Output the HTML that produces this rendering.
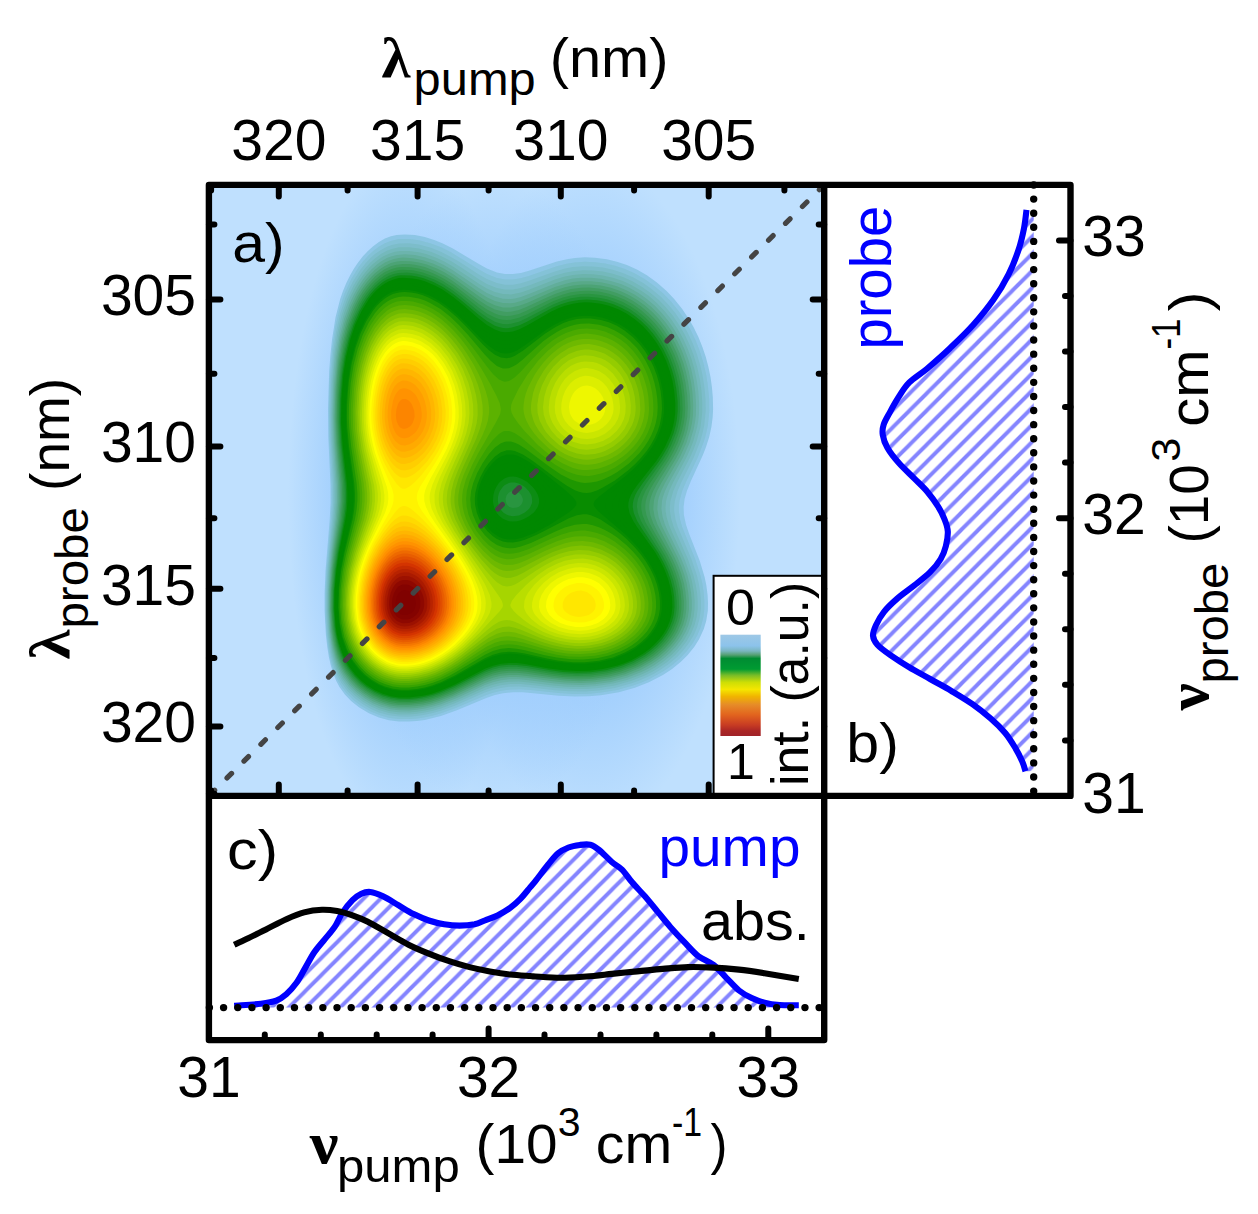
<!DOCTYPE html>
<html lang="en"><head><meta charset="utf-8"><title>2D pump-probe spectrum</title>
<style>html,body{margin:0;padding:0;background:#fff}svg{display:block}</style>
</head><body>
<svg width="1258" height="1214" viewBox="0 0 1258 1214">
<defs>
<pattern id="hatchC" width="17.1" height="17.1" patternUnits="userSpaceOnUse" patternTransform="translate(13.9,0)"><path d="M-3,3 L3,-3 M-3,20.1 L20.1,-3 M14.1,20.1 L20.1,14.1" stroke="#8484ff" stroke-width="3.9" fill="none"/></pattern>
<pattern id="hatchB" width="17.1" height="17.1" patternUnits="userSpaceOnUse" patternTransform="translate(3.4,0)"><path d="M-3,3 L3,-3 M-3,20.1 L20.1,-3 M14.1,20.1 L20.1,14.1" stroke="#8484ff" stroke-width="3.9" fill="none"/></pattern>
<clipPath id="clipA"><rect x="208.9" y="184.9" width="615.3" height="611.0"/></clipPath>
</defs>
<rect width="1258" height="1214" fill="#fff"/>
<g clip-path="url(#clipA)">
<rect x="208.9" y="184.9" width="615.3" height="611.0" fill="rgb(191,224,254)"/>
<radialGradient id="halo"><stop offset="0" stop-color="rgb(160,206,253)"/><stop offset="0.62" stop-color="rgb(160,206,253)" stop-opacity="0.85"/><stop offset="1" stop-color="rgb(160,206,253)" stop-opacity="0"/></radialGradient>
<ellipse cx="408" cy="495" rx="120" ry="340" fill="url(#halo)"/>
<ellipse cx="590" cy="495" rx="150" ry="335" fill="url(#halo)"/>
<ellipse cx="495" cy="495" rx="150" ry="320" fill="url(#halo)"/>
<path fill="rgb(141,198,229)" fill-rule="evenodd" d="M396.7,234.9L404.9,234.4L414.9,235.1L424.9,237.1L434.9,240.2L442.9,243.5L452.9,248.5L478.9,264.1L486.9,268.4L496.9,272.4L504.9,274L512.9,274.1L520.9,272.9L528.9,270.8L556.9,261.6L566.9,259.2L574.9,257.9L584.9,257.3L594.9,257.7L606.9,259.3L616.9,261.7L626.9,265.1L636.9,269.6L646.9,275.3L656.9,282.4L666.6,290.9L674.2,298.9L682.2,308.9L688.9,318.9L693.5,326.9L698.4,336.9L702.4,346.9L705.8,356.9L708.4,366.9L710.5,376.9L711.9,386.9L712.8,396.9L713.1,408.9L712.7,416.9L711.4,426.9L709.2,436.9L706,446.9L702.9,454.9L690.9,481.1L686.9,490.9L684.6,498.9L683.6,506.9L683.9,514.9L686.1,524.9L688.9,533.2L699.8,560.9L704.6,576.9L706.3,584.9L707.6,594.9L708,602.9L707.8,610.9L706.2,620.9L703.8,628.9L699.2,638.9L694.2,646.9L687.7,654.9L680.9,661.7L672.1,668.9L662.9,675L648.9,682.3L634.9,687.8L618.9,692.3L600.9,695.3L588.9,696.3L574.9,696.5L558.9,695.7L522.9,692.3L512.9,692.2L502.9,693.3L494.9,695.1L486.9,697.7L456.9,710.3L440.9,716L424.9,719.9L416.9,721L408.9,721.6L398.9,721.6L388.9,720.3L378.9,717.6L368.9,713.3L358.9,707.2L351.1,700.9L344.9,694.4L339.5,686.9L336.3,680.9L333.1,672.9L330.7,664.9L328.9,656.9L327.3,646.9L325.9,634.9L324.6,610.9L324.6,592.9L325.5,570.9L329.6,520.9L330.6,502.9L330.5,484.9L328.3,436.9L328,408.9L329.2,370.9L330.4,354.9L332.1,338.9L335.6,316.9L340.2,298.9L343,290.9L346.3,282.9L350.3,274.9L353.7,268.9L357.7,262.9L362.9,256.3L367.9,250.9L372.9,246.4L378.9,242L384.9,238.6L390.9,236.3Z"/>
<path fill="rgb(137,196,222)" fill-rule="evenodd" d="M390.9,240.9L398.9,239.1L408.9,239.1L418.9,240.3L430.9,243.5L440.9,247.3L450.9,252.3L478.9,269.5L486.9,273.9L496.9,277.9L504.9,279.5L512.9,279.6L520.9,278.2L528.9,276L556.9,266.3L566.9,263.8L574.9,262.5L584.9,261.8L594.9,262.2L604.9,263.6L614.9,265.8L624.9,269.1L634.9,273.6L644.9,279.2L654.9,286.4L662.9,293.3L670.9,301.5L678.6,310.9L684.9,320.1L691.1,330.9L695.8,340.9L699.7,350.9L703.4,362.9L706.2,374.9L708,386.9L709.1,398.9L709.3,410.9L707.9,424.9L706.2,432.9L704,440.9L697.9,456.9L686.4,480.9L682.1,490.9L679.4,500.9L678.9,504.9L678.8,510.9L679.9,518.9L682.1,526.9L695.1,558.9L700.3,574.9L702.2,582.9L703.7,592.9L704.3,600.9L704.3,608.9L703.4,616.9L700.7,626.9L697.4,634.9L692.8,642.9L686.9,650.9L679.3,658.9L670.9,666L662.9,671.6L648.9,679.2L640.9,682.7L632.9,685.6L616.9,690L600.9,692.6L588.9,693.7L574.9,693.9L558.9,693.1L530.9,690L520.9,689.3L510.9,689.4L500.9,690.7L492.9,692.7L486.2,694.9L454.9,708.3L440.9,713.3L432.9,715.6L424.9,717.3L416.9,718.4L408.9,719.1L398.9,719L388.9,717.7L380.9,715.6L370.9,711.5L360.9,705.7L352.9,699.4L346.5,692.9L340.9,685.4L337.3,678.9L334.7,672.9L332.1,664.9L330.1,656.9L328.3,646.9L327,636.9L326,624.9L325.5,612.9L325.5,592.9L326.3,572.9L331,518.9L331.9,502.9L331.8,484.9L329.5,438.9L329,412.9L329.9,378.9L332.3,348.9L335.4,326.9L339.5,308.9L344.8,292.9L351.3,278.9L358.9,266.7L363.4,260.9L368.9,254.9L373.3,250.9L378.9,246.7L384.9,243.3Z"/>
<path fill="rgb(132,194,215)" fill-rule="evenodd" d="M390.9,240.9L398.9,239.1L408.9,239.1L418.9,240.3L430.9,243.5L440.9,247.3L450.9,252.3L478.9,269.5L486.9,273.9L496.9,277.9L504.9,279.5L512.9,279.6L520.9,278.2L528.9,276L556.9,266.3L566.9,263.8L574.9,262.5L584.9,261.8L594.9,262.2L604.9,263.6L614.9,265.8L624.9,269.1L634.9,273.6L644.9,279.2L654.9,286.4L662.9,293.3L670.9,301.5L678.6,310.9L684.9,320.1L691.1,330.9L695.8,340.9L699.7,350.9L703.4,362.9L706.2,374.9L708,386.9L709.1,398.9L709.3,410.9L707.9,424.9L706.2,432.9L704,440.9L697.9,456.9L686.4,480.9L682.1,490.9L679.4,500.9L678.9,504.9L678.8,510.9L679.9,518.9L682.1,526.9L695.1,558.9L700.3,574.9L702.2,582.9L703.7,592.9L704.3,600.9L704.3,608.9L703.4,616.9L700.7,626.9L697.4,634.9L692.8,642.9L686.9,650.9L679.3,658.9L670.9,666L662.9,671.6L648.9,679.2L640.9,682.7L632.9,685.6L616.9,690L600.9,692.6L588.9,693.7L574.9,693.9L558.9,693.1L530.9,690L520.9,689.3L510.9,689.4L500.9,690.7L492.9,692.7L486.2,694.9L454.9,708.3L440.9,713.3L432.9,715.6L424.9,717.3L416.9,718.4L408.9,719.1L398.9,719L388.9,717.7L380.9,715.6L370.9,711.5L360.9,705.7L352.9,699.4L346.5,692.9L340.9,685.4L337.3,678.9L334.7,672.9L332.1,664.9L330.1,656.9L328.3,646.9L327,636.9L326,624.9L325.5,612.9L325.5,592.9L326.3,572.9L331,518.9L331.9,502.9L331.8,484.9L329.5,438.9L329,412.9L329.9,378.9L332.3,348.9L335.4,326.9L339.5,308.9L344.8,292.9L351.3,278.9L358.9,266.7L363.4,260.9L368.9,254.9L373.3,250.9L378.9,246.7L384.9,243.3Z"/>
<path fill="rgb(124,189,202)" fill-rule="evenodd" d="M391.7,244.9L398.9,243.4L408.9,243.3L418.9,244.6L430.9,247.8L440.9,251.8L450.9,256.9L458.9,261.6L478.9,274.5L486.9,279L496.9,283.1L504.9,284.7L512.9,284.7L520.9,283.2L528.9,280.8L554.9,271.4L564.9,268.6L572.9,267.1L582.9,266.2L592.9,266.4L602.9,267.5L612.9,269.7L622.9,272.9L632.9,277.2L642.9,282.8L650.9,288.4L660.9,296.8L668.7,304.9L675.3,312.9L682.2,322.9L687.9,332.9L692.6,342.9L696.5,352.9L700.2,364.9L702.5,374.9L704.4,386.9L705.5,398.9L705.7,410.9L704.3,424.9L702.6,432.9L700.3,440.9L694,456.9L681,482.9L677.6,490.9L674.8,500.9L674.2,506.9L674.2,510.9L675.4,518.9L677.8,526.9L691.4,558.9L696.8,574.9L698.7,582.9L700.3,592.9L700.9,600.9L700.9,608.9L699.5,618.9L697.2,626.9L693.8,634.9L689,642.9L682.9,650.9L677.2,656.9L668.9,664L660.9,669.6L654.9,673.2L646.9,677.3L638.9,680.7L630.9,683.6L614.9,687.9L598.9,690.4L584.9,691.4L568.9,691.3L554.9,690.2L528.9,687.2L518.9,686.6L508.9,686.8L500.9,687.9L492.9,689.8L484.9,692.6L454.9,705.7L440.9,710.8L432.9,713.1L424.9,714.8L416.9,716L408.9,716.7L398.9,716.6L388.9,715.2L378.9,712.4L370.9,708.9L362.9,704.3L354.9,698.3L347.4,690.9L341.5,682.9L338.1,676.9L335.5,670.9L332.9,663.2L330.8,654.9L329,644.9L327.7,634.9L326.3,612.9L326.3,592.9L327.3,570.9L332.2,518.9L333.2,502.9L333.1,484.9L330.6,438.9L330.1,414.9L330.9,380.9L333.3,350.9L336.3,330.9L340.3,312.9L345.6,296.9L349.1,288.9L352.9,281.4L360.9,268.9L365.8,262.9L370.9,257.6L374.9,254.1L380.9,249.9L386.9,246.7Z"/>
<path fill="rgb(116,185,188)" fill-rule="evenodd" d="M391.7,248.9L398.9,247.3L408.9,247.2L418.9,248.6L430.9,251.8L440.9,255.9L450.9,261.1L460.9,267.3L478.9,279.2L486.9,283.9L496.9,288.1L504.9,289.6L512.9,289.5L520.9,288L528.9,285.4L554.9,275.6L564.9,272.7L572.9,271.2L582.9,270.2L592.9,270.4L602.9,271.6L612.9,273.8L622.9,277.1L632.9,281.6L642.1,286.9L650.6,292.9L658.9,300.1L665.6,306.9L672.9,315.8L679.2,324.9L685,334.9L689.7,344.9L693.6,354.9L697.2,366.9L699.8,378.9L701.5,390.9L702.3,402.9L702.2,412.9L700.5,426.9L696.7,440.9L693.8,448.9L690.2,456.9L676.8,482.9L673.3,490.9L670.4,500.9L669.8,506.9L669.9,510.9L671.2,518.9L673.7,526.9L687.9,558.9L693.4,574.9L695.8,584.9L697.1,592.9L697.7,600.9L697.7,608.9L696.7,616.9L694.6,624.9L691.3,632.9L686.8,640.9L680.9,648.8L674.9,655.2L666.9,662.2L658.9,667.8L652.9,671.4L644.9,675.5L630.9,681L614.9,685.5L598.9,688.1L586.9,689L572.9,689.1L556.9,688.1L530.9,685L520.9,684.1L510.9,684L500.9,685.2L492.9,687.2L484.9,690L454.9,703.3L440.9,708.5L432.9,710.8L424.9,712.6L416.9,713.8L408.9,714.5L398.9,714.4L388.9,713L378.9,710.1L370.9,706.5L362.9,701.8L354.9,695.6L348.2,688.9L342.3,680.9L338.9,675L336.2,668.9L333.5,660.9L331.5,652.9L328.6,634.9L327.2,612.9L327.2,592.9L328,572.9L329.7,552.9L333.4,518.9L334.5,500.9L334.3,482.9L331.7,440.9L331.1,416.9L331.8,384.9L334.2,354.9L337.4,332.9L341.6,314.9L347.1,298.9L353.8,284.9L361.4,272.9L366.2,266.9L370.9,261.9L374.9,258.4L380.9,254L386.9,250.7Z"/>
<path fill="rgb(108,180,173)" fill-rule="evenodd" d="M400.4,250.9L408.9,251L418.9,252.3L426.9,254.3L436.9,258L444.9,261.8L452.9,266.4L478.9,283.7L486.9,288.5L494.9,292.1L502.9,294.1L510.9,294.4L520.9,292.5L528.9,289.8L554.9,279.6L564.9,276.6L572.9,275L582.9,274L592.9,274.2L602.9,275.4L612.9,277.7L622.9,281.1L630.9,284.7L640.9,290.4L648.9,296.1L656.9,303L664.5,310.9L671,318.9L677.7,328.9L683.3,338.9L687.8,348.9L691.5,358.9L694.4,368.9L696.5,378.9L698.3,390.9L699.1,402.9L699,412.9L698.3,420.9L697.2,426.9L693.4,440.9L690.3,448.9L686.7,456.9L672.8,482.9L669.1,490.9L667.1,496.9L666.1,500.9L665.5,506.9L665.6,510.9L666.6,516.9L669,524.9L672.4,532.9L684.5,558.9L690.3,574.9L692.3,582.9L694,592.9L694.7,600.9L694.6,608.9L693.6,616.9L691.5,624.9L688.1,632.9L683.5,640.9L677.3,648.9L671.5,654.9L662.9,662L654.9,667.4L646.9,671.9L640.9,674.7L626.9,680L612.9,683.6L596.9,686.1L582.9,687L566.9,686.7L552.9,685.5L528.9,682.4L518.9,681.6L508.9,681.7L500.9,682.7L492.9,684.7L484.9,687.5L456.9,700.2L440.9,706.3L432.9,708.7L424.9,710.5L416.9,711.7L408.9,712.4L398.9,712.3L388.9,710.9L378.9,707.9L370.9,704.3L362.9,699.4L354.9,693.1L348.9,686.9L342.9,678.9L339.5,672.9L336.8,666.9L334.1,658.9L332.1,650.9L329.3,632.9L327.9,610.9L328,590.9L329,570.9L330.7,552.9L334.6,518.9L335.7,502.9L335.7,484.9L332.8,440.9L332.1,414.9L333.1,380.9L334.3,364.9L335.9,350.9L339.4,330.9L344.1,312.9L347.7,302.9L350.9,295.6L354.9,287.7L358.9,281.1L363.2,274.9L368.9,268.1L372.9,264.1L378.9,259.2L382.9,256.6L388.9,253.7L394.9,251.7Z"/>
<path fill="rgb(98,174,155)" fill-rule="evenodd" d="M396.8,254.9L404.9,254.3L414.9,255.1L424.9,257.3L434.9,260.8L442.9,264.5L452.9,270.2L478.9,288L486.9,293L494.9,296.6L502.9,298.7L510.9,298.9L514.9,298.4L520.9,296.9L528.9,294.1L554.9,283.4L564.9,280.3L572.9,278.6L580.9,277.7L590.9,277.7L600.9,278.7L610.9,280.9L620.9,284.1L628.9,287.6L638.9,293.2L646.9,298.9L654.9,305.8L661.8,312.9L668.4,320.9L673.9,328.9L679.7,338.9L684.4,348.9L688.2,358.9L691.2,368.9L693.8,380.9L695.4,392.9L696.1,404.9L695.9,414.9L695.2,420.9L693.7,428.9L689.5,442.9L683.3,456.9L668.9,482.9L665,490.9L662.9,496.9L662,500.9L661.4,508.9L662.6,516.9L665.1,524.9L668.7,532.9L680.5,556.9L684.6,566.9L687.3,574.9L689.8,584.9L691.1,592.9L691.8,600.9L691.8,608.9L690.7,616.9L688.5,624.9L686.1,630.9L681.6,638.9L675.6,646.9L670,652.9L662.9,659L654.6,664.9L647.7,668.9L640.9,672.3L626.9,677.7L610.9,681.9L594.9,684.3L580.9,685L566.9,684.6L554.9,683.6L528.9,680.2L518.9,679.3L508.9,679.3L500.9,680.3L492.9,682.3L484.9,685.1L456.9,698L440.9,704.3L432.9,706.6L424.9,708.5L416.9,709.7L408.9,710.4L398.9,710.3L390.9,709.3L380.9,706.6L372.9,703.2L364.9,698.6L356.9,692.5L349.4,684.9L343.5,676.9L340.1,670.9L337.4,664.9L334.9,657.6L332.9,649.8L331.2,640.9L329.9,630.9L328.7,610.9L328.8,590.9L329.9,570.9L331.6,552.9L335.8,518.9L337.1,500.9L336.9,484.9L333.9,440.9L333.1,416.9L333.9,384.9L336.4,356.9L339.6,336.9L344.1,318.9L349.9,302.9L353.6,294.9L358,286.9L362.9,279.5L366.9,274.3L371.9,268.9L376.9,264.5L380.9,261.5L386.9,258.1L390.9,256.5Z"/>
<path fill="rgb(88,169,136)" fill-rule="evenodd" d="M394,258.9L398.9,257.9L402.9,257.6L412.9,258.2L422.9,260.2L432.9,263.5L442.9,268.1L452.9,273.9L478.9,292.2L486.9,297.3L494.9,301L502.9,303.1L510.9,303.3L514.9,302.7L520.9,301.1L528.9,298.1L554.9,287L564.9,283.9L572.9,282.1L580.9,281.2L590.9,281.2L600.9,282.2L608.9,283.9L616.9,286.3L626.9,290.4L635.3,294.9L644.1,300.9L651.4,306.9L658.9,314.4L666,322.9L671.6,330.9L677.3,340.9L682,350.9L685.7,360.9L688.7,370.9L691.2,382.9L692.5,392.9L693.2,404.9L693,414.9L692,422.9L690.7,428.9L686.4,442.9L680,456.9L665,482.9L661.1,490.9L658.9,496.9L657.9,500.9L657.3,508.9L658.6,516.9L661.4,524.9L677.4,556.9L681.6,566.9L684.4,574.9L686.6,582.9L688.3,592.9L689,600.9L689,608.9L687.9,616.9L685.7,624.9L682.2,632.9L678.6,638.9L672.9,646.3L666.9,652.6L660.9,657.7L652.9,663.3L640.9,670L626.9,675.6L610.9,679.9L594.9,682.3L580.9,683.1L564.9,682.5L552.9,681.3L526.9,677.8L516.9,677L508.9,677.1L500.9,678L492.9,680L484.9,682.9L454.9,696.8L440.9,702.3L432.9,704.7L424.9,706.6L416.9,707.9L408.9,708.5L398.9,708.5L390.9,707.4L380.9,704.6L372.9,701.2L364.9,696.4L356.9,690.2L349.8,682.9L344,674.9L340.9,669.5L338,662.9L335.8,656.9L333.7,648.9L332.1,640.9L330.7,630.9L329.4,610.9L329.5,590.9L330.7,570.9L332.5,552.9L337,518.9L338.4,500.9L338.1,482.9L335,442.9L334.1,418.9L334.8,388.9L337.1,360.9L340.2,340.9L344.6,322.9L350.2,306.9L356.9,293.1L360.9,286.4L364.9,280.7L369.7,274.9L374.9,269.8L378.9,266.5L384.9,262.6L388.9,260.7Z"/>
<path fill="rgb(76,163,117)" fill-rule="evenodd" d="M401.3,260.9L410.9,261.2L418.9,262.5L426.9,264.6L436.9,268.5L444.9,272.6L452.9,277.5L478.9,296.3L486.9,301.4L494.9,305.3L502.9,307.4L510.9,307.5L518.9,305.8L526.9,302.9L554.9,290.6L564.9,287.3L572.9,285.5L582.9,284.4L590.9,284.5L600.9,285.6L610.9,287.8L620.9,291.3L628.9,295L636.9,299.7L644.9,305.5L652.9,312.6L658.9,318.9L665.2,326.9L670.6,334.9L675.1,342.9L679.7,352.9L683.4,362.9L686.2,372.9L688.3,382.9L689.9,394.9L690.5,406.9L690,416.9L687.9,428.9L686.2,434.9L683.4,442.9L679.9,450.9L675.7,458.9L661.3,482.9L657.1,490.9L654.8,496.9L653.9,500.9L653.3,508.9L654.7,516.9L657.7,524.9L674.4,556.9L678,564.9L681,572.9L683.9,582.9L685.4,590.9L686.4,600.9L686.4,608.9L685.3,616.9L683,624.9L679.3,632.9L675.7,638.9L671,644.9L664.9,651.3L658.3,656.9L650.9,662.1L638.9,668.6L624.9,674.2L608.9,678.3L592.9,680.6L578.9,681.2L564.9,680.6L518.6,674.9L508.9,674.9L500.9,675.8L492.9,677.8L484.9,680.7L452.9,695.7L438.9,701.1L430.9,703.4L422.9,705.2L414.9,706.3L406.9,706.8L396.9,706.5L388.9,705.2L378.9,702L370.9,698.2L362.9,693L355.7,686.9L350.1,680.9L344.4,672.9L341.1,666.9L338.4,660.9L336.3,654.9L334.2,646.9L332.7,638.9L331.3,628.9L330.1,608.9L330.3,590.9L331.5,570.9L333.4,552.9L338.3,518.9L339.7,500.9L339.4,482.9L336.1,442.9L335.1,418.9L335.3,402.9L335.9,386.9L337,372.9L338.5,358.9L342,338.9L346.9,320.9L353.1,304.9L356.9,297.2L360.9,290.4L366.1,282.9L370.9,277.2L374.9,273.2L380.2,268.9L384.9,265.9L390.9,263.1L396.9,261.4Z"/>
<path fill="rgb(65,157,98)" fill-rule="evenodd" d="M395.2,264.9L402.9,263.9L408.9,264.1L414.9,264.8L424.9,267.1L434.9,270.9L444.9,275.9L452.9,280.9L478.9,300.2L486.9,305.5L494.9,309.5L502.9,311.6L506.9,311.9L510.9,311.7L518.9,309.9L526.9,306.8L546.9,297.4L554.9,294L562.9,291.2L570.9,289.1L580.9,287.7L588.9,287.6L598.9,288.5L608.9,290.6L616.9,293.1L624.9,296.5L632.9,300.8L640.9,306.2L648.9,312.9L654.9,318.9L660.9,326L666.9,334.4L671.9,342.9L676.7,352.9L680.5,362.9L683.4,372.9L685.6,382.9L687.2,394.9L687.8,406.9L687.3,416.9L685.1,428.9L683.4,434.9L680.5,442.9L676.9,450.9L672.9,458.3L657.6,482.9L653.2,490.9L650.9,496.9L649.8,500.9L649.3,504.9L649.3,508.9L650.3,514.9L653.1,522.9L657.1,530.9L671.5,556.9L675.2,564.9L678.3,572.9L681.3,582.9L682.8,590.9L683.9,600.9L683.8,608.9L682.7,616.9L681.1,622.9L677.7,630.9L674.2,636.9L669.8,642.9L664.3,648.9L657.5,654.9L650.9,659.7L638.9,666.5L624.9,672.2L616.9,674.6L608.9,676.5L592.9,678.8L578.9,679.4L564.9,678.8L552.9,677.5L526.9,673.7L516.9,672.7L508.9,672.7L500.9,673.7L492.9,675.6L484.9,678.6L452.9,693.9L438.9,699.3L430.9,701.7L422.9,703.4L408.9,705L398.9,705L390.9,703.9L382.9,701.7L372.9,697.4L364.9,692.5L358,686.9L350.9,679.5L346,672.9L342.5,666.9L339.7,660.9L337.5,654.9L335.2,646.9L333.5,638.9L332.1,628.9L330.8,608.9L331,590.9L332.3,570.9L334.4,552.9L339.5,518.9L341,500.9L340.6,482.9L337.1,442.9L336.1,420.9L336.6,392.9L337.5,378.9L338.9,365.3L341.8,346.9L346.1,328.9L351.6,312.9L355.1,304.9L358.9,297.6L362.9,291.1L366.9,285.5L374.9,276.6L379.2,272.9L384.9,269.1L390.9,266.2Z"/>
<path fill="rgb(53,153,80)" fill-rule="evenodd" d="M401.7,266.9L410.9,267.2L418.9,268.5L428.9,271.5L436.9,274.9L444.9,279.2L452.9,284.2L478.9,304L486.9,309.5L494.9,313.6L498.9,314.9L502.9,315.8L506.9,316L510.9,315.8L518.9,313.9L526.9,310.6L552.9,298.1L562.9,294.4L570.9,292.3L580.9,290.9L588.9,290.7L598.9,291.6L608.9,293.8L616.9,296.4L624.9,299.8L632.9,304.3L640.9,309.9L648.9,316.9L654.7,322.9L659.6,328.9L665.2,336.9L669.9,344.9L674.6,354.9L678.4,364.9L681.2,374.9L683.3,384.9L684.7,396.9L685.2,408.9L684.7,416.9L683.8,422.9L681.9,430.9L677.7,442.9L673.9,450.9L669.5,458.9L653.9,482.9L649.3,490.9L646.9,496.9L645.8,500.9L645.3,504.9L645.3,508.9L646.4,514.9L649.4,522.9L653.7,530.9L667.7,554.9L672.5,564.9L675.7,572.9L678.2,580.9L680.4,590.9L681.4,600.9L681.4,608.9L680.2,616.9L678.5,622.9L675.1,630.9L671.5,636.9L666.9,642.9L660.9,649.2L654.1,654.9L646.9,659.9L634.9,666.3L620.9,671.6L606.9,675L590.9,677.2L576.9,677.6L562.9,676.9L550.9,675.5L526.9,671.7L516.9,670.7L508.9,670.7L500.9,671.6L492.9,673.6L484.9,676.5L452.9,692L438.9,697.6L430.9,700L422.9,701.8L414.9,702.9L406.9,703.5L396.9,703.2L388.9,701.8L380.9,699.3L372.9,695.6L364.9,690.6L358,684.9L352.2,678.9L346.3,670.9L342.9,665.1L340.1,658.9L337.9,652.9L335.7,644.9L332.9,628.9L331.6,608.9L331.8,588.9L333.3,568.9L335.6,550.9L340.7,518.9L342.3,500.9L341.9,482.9L338.2,442.9L337.1,418.9L337.2,404.9L337.9,388.9L340.4,362.9L343.9,342.9L348.9,324.9L355.2,308.9L358.9,301.5L362.9,294.7L366.9,288.9L370.9,284L375.9,278.9L380.9,274.8L384.9,272.1L390.9,269.2L396.9,267.5Z"/>
<path fill="rgb(41,149,64)" fill-rule="evenodd" d="M394.6,270.9L398.9,270L402.9,269.7L412.9,270.3L422.9,272.4L434.9,276.9L442.9,281.1L452.9,287.5L460.9,293.4L478.9,307.8L486.9,313.4L494.9,317.6L498.9,319L502.9,319.8L506.9,320.1L510.9,319.8L518.9,317.8L526.9,314.4L552.9,301.3L562.9,297.5L570.9,295.4L580.9,293.9L588.9,293.7L598.9,294.7L606.9,296.3L614.9,298.8L622.9,302.1L630.9,306.5L636.9,310.5L644.8,316.9L650.9,322.9L656.9,329.9L662,336.9L666.9,345L671.8,354.9L675.6,364.9L678.6,374.9L680.7,384.9L682.2,396.9L682.6,408.9L682.1,416.9L679.8,428.9L678,434.9L674.9,442.9L671.1,450.9L666.5,458.9L650.2,482.9L645.4,490.9L642.8,496.9L641.7,500.9L641.2,504.9L641.3,508.9L642.5,514.9L645.8,522.9L664.9,554.9L669,562.9L672.4,570.9L675.8,580.9L677.6,588.9L678.7,596.9L679.1,606.9L678.3,614.9L676.8,620.9L673.6,628.9L670.2,634.9L665.8,640.9L660.3,646.9L653.5,652.9L646.9,657.6L634.9,664.2L620.9,669.7L606.9,673.3L590.9,675.5L576.9,675.9L562.9,675.2L550.9,673.7L526.9,669.8L516.9,668.7L508.9,668.7L500.9,669.6L492.9,671.5L484.9,674.5L454.9,689.4L438.9,695.9L430.9,698.4L422.9,700.2L408.9,701.9L398.9,701.8L390.9,700.6L382.9,698.4L374.9,695L366.9,690.2L358.9,683.8L352.3,676.9L346.9,669.5L344.2,664.9L340.9,658L338.3,650.9L336.6,644.9L333.7,628.9L332.7,618.9L332.3,608.9L332.6,588.9L334.1,568.9L336.5,550.9L341.9,518.9L343.6,500.9L343.2,482.9L339.4,444.9L338.2,422.9L338.5,396.9L340.5,370.9L343.2,352.9L347.3,334.9L352.7,318.9L359.1,304.9L362.9,298.2L366.9,292.3L374.9,283L379.5,278.9L384.9,275.1L388.9,273Z"/>
<path fill="rgb(28,144,47)" fill-rule="evenodd" d="M398.1,272.9L406.9,272.5L416.9,273.8L424.9,275.9L434.9,279.8L442.9,284.1L452.9,290.6L461.2,296.9L478.9,311.5L486.9,317.3L494.9,321.7L498.9,323.1L502.9,323.9L506.9,324.2L510.9,323.8L518.9,321.7L526.9,318.1L552.9,304.5L562.9,300.6L570.9,298.3L580.9,296.8L588.9,296.7L598.9,297.7L606.9,299.3L614.9,301.9L622.9,305.3L630.9,309.8L636.9,313.9L642.9,318.9L649.1,324.9L654.9,331.6L660.9,340L666.1,348.9L669.9,356.9L673.6,366.9L676.5,376.9L678.5,386.9L679.8,398.9L680.2,408.9L679.4,418.9L677.8,426.9L676.1,432.9L671.3,444.9L667.2,452.9L662.9,459.9L646.5,482.9L641.5,490.9L638,498.9L637.2,502.9L637,506.9L637.9,512.9L641,520.9L645.6,528.9L662.1,554.9L666.4,562.9L669.9,570.9L673.4,580.9L675.6,590.9L676.7,600.9L676.7,608.9L675.5,616.9L673.7,622.9L671.1,628.9L667.6,634.9L663.1,640.9L657.5,646.9L650.9,652.5L644.9,656.7L632.9,663.2L620.9,667.9L606.9,671.6L590.9,673.8L576.9,674.3L562.9,673.5L550.9,672L526.9,668L516.9,666.8L508.9,666.7L500.9,667.6L492.9,669.6L484.9,672.6L454.9,687.7L440.9,693.6L432.9,696.3L424.9,698.3L416.9,699.6L408.9,700.3L398.9,700.3L390.9,699.1L382.9,696.8L374.9,693.3L366.9,688.5L359.9,682.9L352.9,675.6L348,668.9L344.4,662.9L341.6,656.9L338.9,649.5L337,642.9L334.2,626.9L333,608.9L333.2,590.9L334.7,570.9L337.1,552.9L343.1,518.9L344.3,508.9L344.8,500.9L344.9,492.9L344.4,482.9L340.3,442.9L339.1,420.9L339.6,394.9L340.6,380.9L341.9,368.9L344.9,350.6L349.4,332.9L355.2,316.9L362.2,302.9L366,296.9L370.5,290.9L374.9,286L378.9,282.3L382.9,279.3L388.9,275.8L392.9,274.2ZM508.9,492.5L506.7,494.9L505.5,498.9L506.2,502.9L507.2,504.9L509.4,506.9L512.9,508.1L516.9,507.6L518.9,506.7L521,504.9L522.2,502.9L522.8,500.9L522.9,498.9L521.2,494.9L518.9,492.7L514.9,491L512.9,490.9L510.9,491.4Z"/>
<path fill="rgb(12,140,19)" fill-rule="evenodd" d="M392.9,276.9L396.9,275.8L400.9,275.2L410.9,275.5L416.9,276.5L422.9,278L432.9,281.7L442.9,287L452.9,293.7L462.1,300.9L478.9,315.1L486.9,321.1L494.9,325.7L498.9,327.1L502.9,328L506.9,328.2L510.9,327.8L518.9,325.5L526.9,321.8L544.9,311.7L552.9,307.6L560.9,304.3L568.9,301.8L578.9,299.9L586.9,299.5L596.9,300.2L604.9,301.8L612.9,304.1L620.9,307.4L628.9,311.8L634.9,315.9L641.2,320.9L647.4,326.9L652.9,333.3L658.4,340.9L663.2,348.9L668,358.9L671.7,368.9L674.5,378.9L676.3,388.9L677.6,400.9L677.7,410.9L676.9,418.9L675.8,424.9L673.6,432.9L670.9,440L667.7,446.9L663.1,454.9L658.9,461.4L642.8,482.9L637.4,490.9L635.3,494.9L633.8,498.9L632.9,502.9L632.7,506.9L633.8,512.9L637.2,520.9L642.1,528.9L658.3,552.9L663.8,562.9L667.5,570.9L670.4,578.9L673,588.9L674.2,596.9L674.6,606.9L673.7,614.9L672.1,620.9L669.7,626.9L666.4,632.9L662.2,638.9L656.9,644.8L650.9,650.1L644.9,654.5L632.9,661.3L620.9,666.1L606.9,669.9L590.9,672.2L576.9,672.7L562.9,671.9L548.9,670L526.9,666.1L516.9,664.9L508.9,664.8L500.9,665.6L492.9,667.6L484.9,670.7L454.9,686L440.9,692.1L432.9,694.7L424.9,696.8L416.9,698.2L408.9,698.9L398.9,698.8L390.9,697.6L382.9,695.3L374.9,691.8L367,686.9L360.9,682L354.9,675.9L348.9,668.1L345.7,662.9L342.8,656.9L340.4,650.9L338,642.9L336.2,634.9L335,626.9L333.7,608.9L333.9,590.9L335.5,570.9L338,552.9L344.3,518.9L345.6,508.9L346.1,500.9L346.2,492.9L345.7,482.9L341.5,444.9L340.2,422.9L340.4,398.9L342.2,374.9L344.9,356.9L348.9,339.4L353.6,324.9L359.7,310.9L366.9,298.8L370.9,293.5L374.9,289L378.9,285.2L382.9,282.1L386.9,279.6ZM508.9,482.9L504.9,484.9L502.9,486.7L499.9,490.9L498.9,493.3L498,496.9L497.9,500.9L498.6,504.9L500.4,508.9L501.8,510.9L503.9,512.9L506.9,514.8L508.9,515.6L512.9,516.2L518.9,515.4L524.9,512.5L528.9,508.9L530.3,506.9L532,502.9L532.2,500.9L531.8,496.9L530.9,494.5L528.7,490.9L524.9,487L521.8,484.9L518.9,483.5L514.9,482.5L510.9,482.5Z"/>
<path fill="rgb(0,136,0)" fill-rule="evenodd" d="M394.9,278.9L398.9,278L402.9,277.7L412.9,278.4L418.9,279.5L424.9,281.3L434.9,285.4L442.9,289.8L453.2,296.9L462.9,304.7L478.9,318.7L486.9,325L494.9,329.6L500.9,331.7L504.9,332.2L508.9,332.1L512.9,331.4L518.9,329.4L526.9,325.4L550.9,311.7L558.9,308L564.9,305.8L572.9,303.7L578.9,302.7L584.9,302.3L590.9,302.5L600.9,303.7L608.9,305.7L618.9,309.5L626.9,313.7L634.9,319.2L642.9,326.1L650.9,334.9L656.7,342.9L661.5,350.9L666.2,360.9L669.8,370.9L672.5,380.9L674.2,390.9L675.3,402.9L675.2,412.9L674.2,420.9L672.4,428.9L670.4,434.9L665,446.9L660.9,454L656.3,460.9L637.4,484.9L633.2,490.9L631,494.9L629.3,498.9L628.4,502.9L628.3,506.9L629.5,512.9L633.3,520.9L637.1,526.9L654.9,551.8L660.3,560.9L664.3,568.9L668.1,578.9L670.3,586.9L672,596.9L672.4,606.9L671.4,614.9L669.8,620.9L667.4,626.9L664,632.9L659.6,638.9L654.9,644.1L649.5,648.9L642.9,653.7L636.9,657.3L630.9,660.4L624.9,662.9L616.9,665.7L602.9,669.1L588.9,670.8L576.9,671.1L562.9,670.3L548.9,668.4L524.9,664L516.9,663.1L508.9,662.9L500.9,663.7L492.9,665.7L484.9,668.8L454.9,684.4L446.9,688.1L438.9,691.3L430.9,693.9L422.9,695.8L408.9,697.5L398.9,697.4L390.9,696.2L382.9,693.8L374.9,690.2L366.9,685.2L360.9,680.3L354.9,674.1L349.5,666.9L345.9,660.9L343,654.9L338.9,642.9L337,634.9L335.8,626.9L334.4,608.9L334.6,590.9L336.3,570.9L338.9,553.1L345.5,518.9L346.9,508.9L347.4,500.9L347.4,492.9L346.9,482.9L342.6,444.9L341.1,422.9L341.4,398.9L343.3,374.9L346.1,356.9L350.4,338.9L355.1,324.9L361.6,310.9L368.9,299.1L372.9,294.1L376.9,289.8L380.9,286.3L384.9,283.5L388.9,281.2ZM508.9,476.7L504.9,478.2L501,480.9L498.9,483L496.3,486.9L494.4,490.9L493.4,494.9L492.9,500.9L493.5,504.9L494.7,508.9L496.8,512.9L498.9,515.5L502.9,518.8L508.9,521.2L512.9,521.6L516.9,521.3L520.9,520.3L524.9,518.6L528.9,516.3L533.2,512.9L535.1,510.9L537.7,506.9L539,502.9L539,498.9L537.9,494.9L535.8,490.9L532.7,486.9L526.9,481.8L522.1,478.9L516.9,477L512.9,476.4Z"/>
<path fill="rgb(0,136,0)" fill-rule="evenodd" d="M397.1,280.9L400.9,280.3L406.9,280.3L416.9,281.6L426.9,284.6L436.9,289.1L444.9,293.9L454.9,301.1L478.9,322.3L486.9,328.8L494.9,333.7L500.9,335.8L504.9,336.3L508.9,336.2L512.9,335.4L518.9,333.2L526.9,329L548.9,315.8L556.9,311.8L564.9,308.7L572.9,306.5L578.9,305.5L584.9,305.1L590.9,305.2L600.9,306.5L608.9,308.6L618.9,312.5L626.9,316.9L634.9,322.5L642.1,328.9L648.9,336.4L654.9,344.6L659.8,352.9L663.6,360.9L667.3,370.9L670.1,380.9L671.9,390.9L673,402.9L672.9,412.9L671.9,420.9L670,428.9L668,434.9L662.4,446.9L657.5,454.9L652.9,461.4L633.4,484.9L627.5,492.9L625.4,496.9L624,500.9L623.5,506.9L624.9,512.9L627.9,518.9L632,524.9L651.6,550.9L657.8,560.9L661.9,568.9L665.9,578.9L668.1,586.9L669.8,596.9L670.2,606.9L669.3,614.9L667.6,620.9L665.1,626.9L661.7,632.9L657.1,638.9L652.9,643.4L646.9,648.6L640.9,652.9L634.9,656.5L628.9,659.5L616.9,664L602.9,667.5L586.9,669.4L574.9,669.6L560.9,668.5L548.9,666.7L524.9,662.2L516.9,661.2L508.9,661L500.9,661.8L492.9,663.8L484.9,667L452.9,683.9L438.9,689.8L424.9,693.9L416.9,695.4L408.9,696.1L400.9,696.2L392.9,695.2L384.9,693.1L376.9,689.8L368.9,685L361.3,678.9L354.9,672.2L349.5,664.9L346.1,658.9L343.3,652.9L340.9,646.5L338.9,639.4L336.3,624.9L335.1,606.9L335.6,586.9L337.3,568.9L339.9,552.9L346.7,518.9L348.1,508.9L348.7,500.9L348.7,492.9L348.1,482.9L343.6,444.9L342.1,422.9L342.4,398.9L344.4,374.9L347.3,356.9L351.8,338.9L356.9,324.4L363.4,310.9L366.9,305.1L370.9,299.4L374.9,294.7L378.9,290.7L382.9,287.5L386.9,284.9L392.9,282.1ZM504.9,472.7L500.9,475L496.9,478.7L493.8,482.9L490.9,488.9L489.4,494.9L489,498.9L489.4,504.9L490.5,508.9L492.1,512.9L494.9,517.2L498.9,521.2L502.9,523.8L506.9,525.3L510.9,525.9L514.9,525.9L520.9,524.7L525.8,522.9L530.9,520.2L535.7,516.9L540,512.9L543.1,508.9L544.8,504.9L545.3,500.9L544.7,496.9L543,492.9L538.8,486.9L532.9,481L526.9,476.6L520.9,473.4L514.9,471.6L508.9,471.6Z"/>
<path fill="rgb(0,136,0)" fill-rule="evenodd" d="M400.1,282.9L408.9,282.9L418.9,284.6L428.9,287.9L438.9,292.9L446.9,298L455.9,304.9L480.9,327.7L486.9,332.6L494.9,337.7L500.9,339.9L504.9,340.5L508.9,340.3L512.9,339.5L516.9,338L524.9,333.9L548.9,318.9L556.6,314.9L562.9,312.2L570.9,309.7L576.9,308.5L582.9,307.8L588.9,307.8L598.9,308.9L606.9,310.8L616.9,314.5L624.9,318.7L632.9,324.2L640.6,330.9L647.8,338.9L653.5,346.9L658.2,354.9L662.7,364.9L665.5,372.9L668.2,382.9L669.9,392.9L670.8,404.9L670.5,414.9L669.2,422.9L667.6,428.9L664.7,436.9L662,442.9L657.4,450.9L652.9,457.5L646.9,465.2L624.2,490.9L621.4,494.9L619.5,498.9L618.2,504.9L619.3,510.9L621.1,514.9L623.5,518.9L628,524.9L645.9,546.9L651.6,554.9L656.5,562.9L660.5,570.9L663.6,578.9L666,586.9L667.5,594.9L668.1,602.9L667.8,610.9L666.1,618.9L662.9,626.9L657.9,634.9L652.8,640.9L646.3,646.9L638.9,652.2L632.9,655.7L626.9,658.6L614.9,663L600.9,666.3L586.9,667.9L574.9,668.1L560.9,667L548.9,665.2L524.9,660.5L516.9,659.4L508.9,659.1L500.9,659.9L492.9,662L484.9,665.2L454.9,681.3L440.9,687.7L432.9,690.5L424.9,692.6L416.9,694L408.9,694.8L400.9,694.8L392.9,693.9L384.9,691.7L376.9,688.3L368.9,683.5L362.9,678.7L356.9,672.7L350.9,664.9L347.3,658.9L344.3,652.9L342,646.9L339.6,638.9L336.9,623.7L335.8,606.9L336.3,586.9L338.1,568.9L340.9,552.3L347.9,518.9L349.4,508.9L349.9,500.9L350,492.9L349.4,482.9L344.7,444.9L343.1,422.9L343.4,398.9L345.5,374.9L348.5,356.9L353.1,338.9L358.9,323.3L365.2,310.9L368.9,305.1L372.9,299.8L376.9,295.4L380.9,291.7L384.9,288.7L390.9,285.4L394.9,283.9ZM510.9,466.9L504.9,468L500.9,469.9L496.9,473.1L492.9,477.7L489.8,482.9L487.3,488.9L486,494.9L485.6,500.9L486.4,506.9L488.3,512.9L490.9,517.6L494.9,522.6L498.9,525.8L502.9,528L506.9,529.2L512.9,529.8L518.9,529L525.7,526.9L532.9,523.4L539.7,518.9L546.4,512.9L549.3,508.9L551,504.9L551.4,500.9L550.6,496.9L547.5,490.9L542.6,484.9L536.3,478.9L528.9,473.3L522.9,469.9L516.9,467.6Z"/>
<path fill="rgb(0,136,0)" fill-rule="evenodd" d="M393.3,286.9L396.9,285.8L400.9,285.2L406.9,285.2L412.9,285.8L422.9,288.2L428.9,290.4L434.9,293.2L444.9,299.3L454.8,306.9L463.8,314.9L480.9,331.3L486.9,336.5L494.9,341.8L500.9,344.1L504.9,344.7L508.9,344.5L512.9,343.6L516.9,342L524.9,337.6L548.9,321.9L556.9,317.6L562.9,315L568.9,313L574.9,311.5L580.9,310.7L586.9,310.4L596.9,311.3L604.9,313L614.9,316.5L622.9,320.5L630.9,325.8L638.9,332.7L644.9,339.2L650.7,346.9L655.5,354.9L660.2,364.9L663.8,374.9L666.3,384.9L667.8,394.9L668.6,406.9L668,416.9L666.4,424.9L663.9,432.9L661.4,438.9L657.2,446.9L653.4,452.9L648.9,459L642.9,466.1L622.7,486.9L617.4,492.9L613.7,498.9L612.5,502.9L612.3,504.9L612.5,506.9L613.7,510.9L617.2,516.9L622.1,522.9L640.9,544.2L647.6,552.9L652.9,560.9L656.9,568.2L659.9,574.9L662.8,582.9L664.7,590.9L666,600.9L665.9,608.9L664.6,616.9L662.6,622.9L658.4,630.9L654,636.9L646.9,644.1L638.9,650.2L632.9,653.8L626.9,656.8L614.9,661.4L600.9,664.8L586.9,666.4L574.9,666.6L560.9,665.5L548.9,663.6L524.9,658.8L516.9,657.6L508.9,657.3L500.9,658.1L492.9,660.1L484.9,663.4L454.9,679.9L440.9,686.3L432.9,689.1L424.9,691.3L416.9,692.7L408.9,693.5L400.9,693.5L392.9,692.5L384.9,690.4L376.9,686.9L368.9,682L362.9,677.2L356.9,671L352.2,664.9L348.4,658.9L345.4,652.9L341.1,640.9L339.1,632.9L337.8,624.9L336.5,608.9L336.9,589.2L338.7,570.9L341.7,552.9L349.1,518.9L350.6,508.9L351.2,500.9L351.2,492.9L350.6,482.9L345.7,444.9L344.2,424.9L344.2,402.9L345.8,380.9L348.5,362.9L352.1,346.9L356.9,331.9L362.6,318.9L368.9,308L372.9,302.6L376.9,298L380.9,294.3L384.9,291.2L388.9,288.8ZM508.9,462.7L502.9,464.2L498.9,466.6L494.1,470.9L489.5,476.9L486.3,482.9L484.1,488.9L482.9,494.9L482.7,502.9L483.8,508.9L485.9,514.9L488.9,520.2L492.9,525.1L497.5,528.9L502.9,531.7L508.9,533.1L514.9,533.1L520.9,532L529.3,528.9L537,524.9L546,518.9L552.7,512.9L555.7,508.9L557.5,504.9L557.8,500.9L557.4,498.9L555.8,494.9L551.6,488.9L546,482.9L536.8,474.9L528.9,469.2L520.9,464.9L514.9,463Z"/>
<path fill="rgb(0,136,0)" fill-rule="evenodd" d="M394.5,288.9L398.9,287.8L402.9,287.5L408.9,287.7L414.9,288.5L420.9,290L426.9,292L436.9,296.9L444.9,302L454.9,309.8L464.8,318.9L480.9,335L488.9,342L494.9,346L500.9,348.4L504.9,349L508.9,348.8L512.9,347.8L516.9,346.1L524.9,341.4L548.9,324.9L556.1,320.9L562.9,317.8L568.9,315.7L574.9,314.2L580.9,313.3L586.9,313.1L596.9,313.9L604.9,315.7L612.9,318.4L620.9,322.3L628.9,327.4L636.9,334.2L643.2,340.9L648.9,348.5L653.9,356.9L658.6,366.9L662,376.9L664.4,386.9L665.8,396.9L666.4,408.9L665.4,418.9L663.6,426.9L660.9,434.6L658,440.9L653.4,448.9L649.2,454.9L642.9,462.6L636.9,469L615.4,488.9L609.5,494.9L606.7,498.9L605.7,500.9L605.1,504.9L606.1,508.9L609.9,514.9L634.9,540.8L641.9,548.9L647.8,556.9L652.8,564.9L656.9,572.9L660,580.9L662.2,588.9L663.8,598.9L664,606.9L663,614.9L660.4,622.9L656.1,630.9L651.6,636.9L645.6,642.9L637.9,648.9L626.9,655.1L614.9,659.8L600.9,663.3L586.9,665L574.9,665.1L560.9,664L550.9,662.4L526.9,657.4L516.9,655.8L508.9,655.4L500.9,656.2L492.9,658.3L484.9,661.7L454.9,678.4L446.9,682.3L438.9,685.7L424.9,690L416.9,691.4L408.9,692.2L400.9,692.3L392.9,691.3L384.9,689.1L376.9,685.6L369.4,680.9L362.9,675.6L356.9,669.3L352.1,662.9L348.5,656.9L345.6,650.9L341.4,638.9L339.6,630.9L338.3,622.9L337.2,606.9L337.6,588.9L339.5,570.9L342.6,552.9L350.3,518.9L351.8,508.9L352.4,500.9L352.5,492.9L351.8,482.9L346.8,444.9L345.3,426.9L345.1,404.9L346.9,380.9L349.6,362.9L353.3,346.9L357.9,332.9L364.2,318.9L370.9,308L374.9,302.9L378.9,298.7L382.9,295.2L386.9,292.4L390.9,290.3ZM506.9,458.7L500.9,460.8L496.9,463.5L491.5,468.9L487.3,474.9L483.3,482.9L481.3,488.9L479.9,496.9L480,502.9L480.9,508.9L483.8,516.9L487.3,522.9L492.6,528.9L496.9,532.2L502.9,535.2L508.9,536.4L514.9,536.3L522.9,534.6L532.2,530.9L543.2,524.9L552.3,518.9L559.5,512.9L563,508.9L564.9,504.9L565.1,500.9L564.6,498.9L562.4,494.9L557.4,488.9L546.7,478.9L534,468.9L524.9,463L518.9,460.2L512.9,458.6Z"/>
<path fill="rgb(8,140,0)" fill-rule="evenodd" d="M395.6,290.9L402.9,289.8L408.9,290L414.9,290.9L424.9,293.7L430.9,296.2L436.9,299.4L445.4,304.9L455.2,312.9L463.7,320.9L482.9,340.7L488.9,346.1L494.9,350.3L500.9,352.9L504.9,353.5L508.9,353.2L512.9,352.2L516.9,350.4L524.9,345.3L546.9,329.2L554,324.9L560.9,321.4L566.9,319.1L572.9,317.3L578.9,316.2L584.9,315.7L594.9,316.3L602.9,317.8L610.9,320.4L618.9,324.1L626.9,329.1L634.1,334.9L640.9,341.9L646.9,349.7L652.4,358.9L656.9,368.9L660.2,378.9L662.8,390.9L664,402.9L664,412.9L662.4,422.9L660,430.9L656.6,438.9L652.1,446.9L646.9,454.2L640.9,461.4L632.9,469.5L624.9,476.5L598.6,496.9L594.7,500.9L593.7,502.9L593.7,504.9L594.6,506.9L598,510.9L624.9,534.1L632.9,542L640.9,551.1L646.7,558.9L651.6,566.9L655.6,574.9L659.1,584.9L661.3,594.9L662,602.9L661.7,610.9L659.9,618.9L656.4,626.9L650.9,634.9L644.9,641.3L636.9,647.6L630.9,651.3L624.9,654.3L612.9,658.9L598.9,662.2L584.9,663.7L572.9,663.6L558.9,662.3L546.9,660.2L524.9,655.3L516.9,654L508.9,653.6L500.9,654.4L492.9,656.5L484.9,659.9L454.9,676.9L440.9,683.6L432.9,686.5L424.9,688.7L416.9,690.2L408.9,691L400.9,691L392.9,690L384.9,687.8L376.9,684.2L370.9,680.6L363.8,674.9L358,668.9L352.9,662.2L349.6,656.9L346.6,650.9L344.2,644.9L341.7,636.9L339.1,622.9L337.9,606.9L338.4,588.9L340.3,570.9L343.6,552.9L351.5,518.9L353,508.9L353.7,500.9L353.7,492.9L353,482.9L347.8,444.9L346.2,426.9L345.9,416.9L346.1,404.9L347.9,380.9L350.3,364.9L354,348.9L358.9,334L364.9,320.7L370.9,310.8L374.9,305.5L378.9,301.2L382.9,297.6L386.9,294.8L390.9,292.6ZM506.9,454.5L500.9,456.5L496.9,459.1L492.9,462.7L488.9,467.5L484.9,473.6L481.3,480.9L479.1,486.9L477.8,492.9L477.3,498.9L477.6,504.9L478.8,510.9L480.1,514.9L482.9,520.7L485.6,524.9L488.9,529L493,532.9L499.2,536.9L502.9,538.4L506.9,539.3L510.9,539.6L514.9,539.4L522.9,537.6L534.5,532.9L549.3,524.9L568,512.9L573,508.9L574.9,506.9L576.2,504.9L576.5,502.9L575.9,500.9L572.8,496.9L563.9,488.9L541.6,470.9L528.9,461.8L520.9,457.2L516.9,455.6L512.9,454.6Z"/>
<path fill="rgb(30,151,0)" fill-rule="evenodd" d="M396.7,292.9L400.9,292.2L404.9,292.1L410.9,292.5L416.9,293.6L422.9,295.3L428.9,297.7L438.9,303.1L447.2,308.9L456.9,317.2L466.6,326.9L482.9,344.5L488.9,350.3L494.9,354.8L500.9,357.6L506.9,358.2L510.9,357.4L514.9,355.8L522.9,350.8L544.9,333.7L555.6,326.9L562.9,323.3L568.9,321.1L576.9,319.1L582.9,318.4L590.9,318.5L600.9,320L608.9,322.3L616.9,325.8L624.9,330.7L632.7,336.9L638.9,343.2L644.9,350.9L649.8,358.9L653.7,366.9L656.7,374.9L659,382.9L660.6,390.9L661.7,400.9L662,408.9L661.3,416.9L659.7,424.9L657.7,430.9L654.9,437.4L650.9,444.7L646.7,450.9L640.9,458L634.9,464.2L628.9,469.7L614.9,480.4L602.9,487.6L596.9,490.4L590.9,492.4L586.9,492.9L582.9,492.8L578.9,491.8L574.9,490.2L566.9,485.8L554.9,477.5L532.9,461L522.9,454.5L514.9,451L510.9,450.3L506.9,450.3L500.9,452.2L494.9,456.4L488.9,462.9L484.9,468.6L480.4,476.9L477.2,484.9L475.3,492.9L474.8,498.9L475.1,504.9L476.9,512.9L479.3,518.9L482.9,525.3L487.2,530.9L492.9,536.2L496.9,538.9L502.9,541.5L506.9,542.3L512.9,542.5L518.9,541.6L524.9,539.8L536.9,534.7L568.9,518.2L576.9,515.2L582.9,514.2L586.9,514.3L590.9,515.3L596.9,517.7L600.9,519.8L612.9,527.7L620.9,534L626.9,539.3L634.9,547.4L640.9,554.5L645.6,560.9L650.4,568.9L654.3,576.9L657.1,584.9L659,592.9L659.9,600.9L659.9,608.9L659,614.9L657.1,620.9L654.2,626.9L650.9,632L646.8,636.9L640.9,642.5L635,646.9L624.9,652.6L612.9,657.4L598.9,660.7L584.9,662.2L572.9,662.2L558.9,660.8L546.9,658.6L524.9,653.6L516.9,652.3L508.9,651.8L500.9,652.5L492.9,654.7L484.9,658.2L454.9,675.5L440.9,682.3L432.9,685.2L424.9,687.5L416.9,689L408.9,689.8L400.9,689.8L392.9,688.8L384.9,686.5L378.9,684L370.9,679.2L364.9,674.4L358.9,668.3L353.3,660.9L349.7,654.9L346.9,649.2L342.6,636.9L339.8,622.9L338.6,606.9L339.1,588.9L341.1,570.9L344.5,552.9L352.7,518.9L354.3,508.9L354.9,500.9L354.9,492.9L354.2,482.9L349.1,446.9L347.2,426.9L346.9,416.9L347.1,404.9L347.8,392.9L348.9,380.9L351.8,362.9L355.8,346.9L360.7,332.9L366.4,320.9L372.9,310.7L376.9,305.8L380.9,301.8L384.9,298.5L388.9,296L392.9,294.1Z"/>
<path fill="rgb(56,163,0)" fill-rule="evenodd" d="M398.8,296.9L402.9,296.5L408.9,296.7L418.9,298.6L424.9,300.6L430.1,302.9L440.9,309.3L450.6,316.9L458.9,324.9L468.1,334.9L484.9,354.8L490.9,361.1L496.9,365.9L500.9,367.8L502.9,368.4L504.9,368.6L508.9,368.2L512.9,366.6L516.9,364.2L522.9,359.4L542.9,341.6L549.1,336.9L556.9,331.9L562.9,328.8L568.9,326.4L574.9,324.7L580.9,323.7L588.9,323.5L598.9,324.8L606.9,327L614.9,330.4L622.9,335.2L630,340.9L636.9,348.1L642,354.9L645.7,360.9L649.7,368.9L652.1,374.9L654.5,382.9L656.2,390.9L657.3,398.9L657.7,406.9L657.3,414.9L655.8,422.9L653.9,428.9L651.4,434.9L648.2,440.9L644.2,446.9L639.5,452.9L634.9,457.8L628.9,463.4L622.9,468.1L616.9,472.2L610.9,475.7L602.9,479.4L596.9,481.4L590.9,482.6L584.9,482.9L580.9,482.5L576.9,481.6L570.9,479.5L560.9,474.4L548.9,466.3L526.9,449.7L518.9,444.6L514.9,442.8L510.9,441.6L506.9,441.5L504.9,441.8L500.9,443.2L494.9,447.5L488.9,454.1L482.7,462.9L477.2,472.9L473.2,482.9L471.1,490.9L470.3,498.9L470.9,506.9L472.9,514.9L476.4,522.9L480,528.9L484.9,535.2L490.9,541L496.9,545L502.9,547.3L506.9,548.1L510.9,548.3L514.9,547.9L520.9,546.6L530.9,542.9L554.9,531.7L564.9,527.5L574.9,524.7L582.9,523.9L586.9,524.1L592.9,525.2L598.9,527.2L604.9,529.9L610.9,533.3L616.9,537.3L626.9,545.5L632.9,551.5L638.9,558.5L643.5,564.9L648.1,572.9L650.9,579L653.6,586.9L655.4,594.9L656,600.9L656.1,606.9L655.4,612.9L653.8,618.9L651.1,624.9L647.3,630.9L642.9,636.1L637.7,640.9L632.3,644.9L626.9,648.2L620.9,651.2L608.9,655.6L596.9,658.2L582.9,659.5L570.9,659.3L556.9,657.6L544.9,655.2L524.9,650.2L516.9,648.7L508.9,648.1L500.9,648.8L492.9,651.1L484.9,654.7L456.9,671.6L448.9,676L440.9,679.7L432.9,682.8L424.9,685.1L416.9,686.6L408.9,687.4L400.9,687.5L392.9,686.4L384.9,684.1L378.9,681.4L372.9,677.9L366.4,672.9L360.4,666.9L354.9,659.8L351.8,654.9L348.8,648.9L344.3,636.9L341.4,622.9L340.1,606.9L340.6,588.9L342.7,570.9L345.9,554.9L355,518.9L356.7,508.9L357.4,500.9L357.4,492.9L356.6,482.9L351.2,446.9L349.2,426.9L348.8,416.9L349,404.9L350.7,382.9L353.6,364.9L357.7,348.9L362.7,334.9L368.5,322.9L374.9,313.3L378.9,308.6L382.9,304.8L386.9,301.8L390.9,299.5L394.9,297.9Z"/>
<path fill="rgb(74,170,0)" fill-rule="evenodd" d="M401.2,300.9L406.9,300.9L412.9,301.6L422.9,304.3L432.9,309L438.9,312.7L444.5,316.9L453.4,324.9L462.7,334.9L472.3,346.9L486.9,366.6L492.9,373.9L498.9,379.4L502.9,381.3L504.9,381.7L508.9,381L510.9,380.1L514.9,377.2L520.9,371.4L532.3,358.9L540.2,350.9L546.9,344.9L552.9,340.3L558.9,336.4L565.9,332.9L572.9,330.4L578.9,329.1L586.9,328.5L596.9,329.5L604.9,331.6L612.9,335L620.9,339.8L626.9,344.5L633.2,350.9L638.9,358.4L642.8,364.9L645.7,370.9L648.1,376.9L650.5,384.9L652.2,392.9L653.1,400.9L653.4,408.9L653,414.9L651.9,420.9L650.1,426.9L647.6,432.9L644.4,438.9L640.9,444.2L636.9,449.3L632.9,453.6L626.9,459.1L620.9,463.6L614.9,467.4L606.9,471.4L600.9,473.6L594.9,475.1L588.9,475.9L582.9,475.8L576.9,474.8L572.9,473.6L566.9,471.2L560.9,468.1L554.9,464.4L542,454.9L520.9,437.3L514.9,433.2L510.9,431.4L508.9,430.9L504.9,431L502.9,431.6L498.9,434L492.9,439.9L486.9,447.8L478.9,460.6L473.6,470.9L469.5,480.9L466.8,490.9L466.1,498.9L466.7,506.9L468.6,514.9L472,522.9L476.6,530.9L482.9,539.2L488.9,545.2L494.9,549.6L500.9,552.4L504.9,553.4L508.9,553.8L512.9,553.6L518.9,552.5L528.9,548.9L550.9,538.8L560.9,534.8L570.9,531.8L580.9,530.6L584.9,530.6L590.9,531.4L596.9,532.9L602.9,535.1L608.9,538.1L614.9,541.7L624.9,549.5L630.9,555.3L635.8,560.9L640.9,568L644.8,574.9L647.5,580.9L650.2,588.9L651.5,594.9L652.3,602.9L652.2,608.9L651.1,614.9L649,620.9L647,624.9L642.9,630.9L639.4,634.9L635,638.9L629.7,642.9L624.9,645.8L618.9,648.8L606.9,653.2L594.9,655.7L580.9,656.8L568.9,656.4L556.9,654.8L546.9,652.6L524.9,646.7L516.9,645L508.9,644.3L500.9,645L492.9,647.4L484.9,651.2L454.9,670.1L440.9,677.3L432.9,680.4L424.9,682.8L416.9,684.4L408.9,685.2L400.9,685.2L392.9,684.2L384.9,681.8L378.9,679L370.9,673.9L365.1,668.9L359.6,662.9L355.3,656.9L351.8,650.9L348.9,644.9L344.9,632.9L342.3,618.9L341.5,604.9L342,588.9L344.3,570.9L347.7,554.9L357.3,518.9L359.1,508.9L359.8,500.9L359.8,492.9L359,482.9L353.2,446.9L351.1,426.9L350.7,416.9L350.9,404.9L352.7,382.9L355.4,366.9L359.4,350.9L364.5,336.9L370.6,324.9L376.9,315.8L380.9,311.4L384.9,307.8L388.9,305.1L392.9,303L396.9,301.6Z"/>
<path fill="rgb(92,178,0)" fill-rule="evenodd" d="M393.9,306.9L398.9,305.4L404.9,305L412.9,305.8L418.9,307.3L426.9,310.3L432.9,313.5L440.9,318.9L446.9,323.9L454,330.9L461,338.9L467.1,346.9L474.1,356.9L481.6,368.9L489.7,382.9L496.1,394.9L499.7,402.9L500.9,408.9L500.4,412.9L499.7,414.9L495.6,422.9L478.9,451.9L472.1,464.9L466,478.9L462.9,490.3L462.3,494.9L462.1,500.9L462.7,506.9L464,512.9L466.1,518.9L468.9,524.9L474.9,534.9L482.9,545L490.9,552.5L494.9,555.2L498.9,557.3L502.9,558.6L506.9,559.3L512.9,559.1L520.9,557.1L528.9,554L546.9,545.5L556.9,541.3L566.9,538.1L574.9,536.5L584.9,536.2L594.9,537.8L604.9,541.4L614.9,547.1L620.9,551.5L626.9,556.9L632.4,562.9L636.9,568.9L640.9,575.6L644.3,582.9L646.3,588.9L647.9,596.9L648.5,602.9L648.3,608.9L647.2,614.9L645,620.9L641.6,626.9L638.5,630.9L634.7,634.9L628.9,639.6L623.9,642.9L618.9,645.6L612.9,648.2L606.9,650.2L594.9,653L580.9,654.1L568.9,653.7L556.9,651.9L544.9,649.1L522.9,642.6L514.9,640.9L506.9,640.4L500.9,641.1L494.9,642.8L486.9,646.5L478.9,651.5L456.9,666.3L448.9,670.9L440.9,674.9L432.9,678.1L424.9,680.5L416.9,682.2L408.9,683L400.9,683.1L394.9,682.4L386.9,680.2L380.9,677.7L374.9,674.2L368,668.9L362.9,663.8L357.5,656.9L353.8,650.9L350.9,645.1L348.4,638.9L346.6,632.9L343.8,618.9L342.9,604.9L343.5,588.9L345.9,570.9L349.4,554.9L359.6,518.9L361.5,508.9L362.2,500.9L362.2,492.9L361.4,482.9L355.2,446.9L353.1,428.9L352.7,410.9L354,388.9L356.3,372.9L359.4,358.9L363.2,346.9L368.2,334.9L373.9,324.9L380.1,316.9L386.9,310.8L390.9,308.3ZM575.7,334.9L580.9,333.9L586.9,333.6L594.9,334.4L600.9,335.7L606.9,337.7L612.9,340.6L618.9,344.3L622.9,347.4L626.9,351.1L632.1,356.9L636.4,362.9L639.8,368.9L642.9,375.6L645.4,382.9L647,388.9L648.4,396.9L649.1,408.9L648.6,414.9L647.5,420.9L645.6,426.9L642.9,432.9L639.4,438.9L636.6,442.9L632.9,447.3L627.2,452.9L622.9,456.5L616.9,460.6L610.9,464L604.9,466.6L598.9,468.4L592.9,469.6L586.9,470.1L582.9,469.9L578.9,469.4L572.9,467.9L562.9,463.5L556.9,460L550.9,455.9L537.9,444.9L524.5,430.9L518,422.9L513.8,416.9L511.7,412.9L510.8,408.9L511.2,404.9L512.6,400.9L518.5,388.9L527.2,374.9L537.9,360.9L547.6,350.9L556.9,343.5L566.9,337.9Z"/>
<path fill="rgb(110,185,0)" fill-rule="evenodd" d="M394.4,310.9L398.9,309.6L404.9,309.1L412.9,310L418.9,311.5L424.9,313.8L430.9,316.8L436.9,320.6L442.9,325.3L448.9,330.9L456.2,338.9L462.4,346.9L467.8,354.9L473.9,364.9L478.1,372.9L481.9,380.9L485.7,390.9L487.9,398.9L489.1,406.9L489.1,412.9L487.8,420.9L485.9,426.9L482.6,434.9L468.9,463L463.6,474.9L460.2,484.9L458.4,494.9L458.2,500.9L458.5,504.9L460.8,514.9L465,524.9L468.3,530.9L472.9,538L476.9,543.5L482.9,550.6L490.9,558.1L494.9,560.9L498.9,563L502.9,564.4L506.9,565L512.9,564.7L518.9,563.2L526.9,559.9L544.9,551.1L554.9,546.7L564.9,543.3L572.9,541.6L582.9,541L592.9,542.3L602.9,545.5L613,550.9L618.9,555.1L624.9,560.5L629,564.9L633.6,570.9L637.3,576.9L640.2,582.9L642.3,588.9L644.1,596.9L644.7,602.9L644.5,608.9L643.4,614.9L641.9,618.9L638.9,624.6L635.8,628.9L630.9,633.9L624.9,638.7L614.9,644.2L608.9,646.6L602.9,648.5L590.9,650.8L576.9,651.4L564.9,650.5L552.9,648.2L542.9,645.4L522.9,638.9L514.9,636.9L506.9,636.2L500.9,636.9L494.9,638.8L486.9,642.8L458,662.9L450.9,667.3L442.9,671.6L434.9,675.1L426.9,677.8L416.9,680.1L408.9,680.9L400.9,681L394.9,680.2L386.9,678L380.9,675.4L374.9,671.8L368.9,667.1L362.9,661L358.9,655.8L355.8,650.9L352.7,644.9L350.2,638.9L348.2,632.9L346.7,626.9L345.3,618.9L344.4,604.9L345,588.9L347.5,570.9L351.8,552.9L361.9,518.9L363.9,508.9L364.7,500.9L364.7,492.9L363.7,482.9L357.2,446.9L355,428.9L354.5,410.9L355.7,390.9L357.6,376.9L360.6,362.9L364.2,350.9L369.1,338.9L374.9,328.5L380.9,320.7L386.9,315.1L390.9,312.5ZM583.1,338.9L588.9,338.9L594.9,339.6L600.9,341L606.9,343.2L612.9,346.3L616.9,349L621.8,352.9L625.8,356.9L629.2,360.9L633.4,366.9L636.7,372.9L639.4,378.9L642.9,390.9L644,396.9L644.7,404.9L644.7,410.9L643.9,416.9L642.9,421.2L640.9,426.9L638.9,431.3L635.6,436.9L629.2,444.9L620.9,452.4L616.9,455.2L610.9,458.6L600.9,462.6L594.9,464L588.9,464.7L584.9,464.7L578.9,464L574.9,463.1L568.9,461L558.9,455.8L548.9,448.5L539,438.9L533.9,432.9L529.7,426.9L526.5,420.9L524.9,416.9L523.9,412.9L523.4,408.9L523.6,404.9L524.4,398.9L526,392.9L528.3,386.9L534.5,374.9L538.5,368.9L543.1,362.9L548.5,356.9L552.8,352.9L557.8,348.9L562.9,345.6L568,342.9L572.9,341L578.9,339.4Z"/>
<path fill="rgb(129,194,0)" fill-rule="evenodd" d="M394.7,314.9L398.9,313.6L404.9,313.2L410.9,313.7L416.9,315L422.9,317.1L428.9,320L434.9,323.8L440.9,328.4L445.8,332.9L451.4,338.9L456.3,344.9L462,352.9L466.9,360.9L471.2,368.9L474.9,376.9L478,384.9L480.9,394.9L482.5,404.9L482.8,412.9L481.9,420.9L479.8,428.9L476.1,438.9L462.9,467.5L458.3,478.9L455.4,488.9L454.4,496.9L454.5,502.9L455,506.9L456.4,512.9L458.6,518.9L464.6,530.9L472.4,542.9L482.9,556L490.9,563.8L494.9,566.8L498.9,569L502.9,570.5L506.9,571.1L512.9,570.6L518.9,568.8L524.9,566.1L542.9,556.7L552.9,552L562.9,548.4L570.9,546.5L580.9,545.6L590.9,546.5L600.9,549.4L610.9,554.4L616.9,558.6L621.8,562.9L626.9,568.3L630.4,572.9L634.1,578.9L636.9,584.9L638.9,590.9L640.2,596.9L640.8,602.9L640.7,608.9L639.5,614.9L637.9,618.9L634.9,624.3L631.3,628.9L627.2,632.9L622.9,636.2L618.8,638.9L612.9,641.9L602.9,645.6L590.9,648L584.9,648.6L576.9,648.7L564.9,647.7L552.9,645.2L542.9,642.2L522.9,634.9L514.9,632.6L508.9,631.7L502.9,632L496.9,633.7L488.9,637.7L480.9,643.2L458.9,659.7L450.9,664.9L442.9,669.3L434.9,672.9L426.9,675.7L416.9,678L408.9,678.9L400.9,678.9L394.9,678.2L388.9,676.6L382.9,674.2L376.9,670.8L370.9,666.4L365.3,660.9L360.4,654.9L354.5,644.9L351.9,638.9L349.8,632.9L348.2,626.9L346.8,618.9L345.8,604.9L346.5,588.9L349.1,570.9L353.6,552.9L364.2,518.9L366.3,508.9L367.2,500.9L367.1,492.9L366.1,482.9L359.5,448.9L357.1,430.9L356.3,412.9L357.4,392.9L359.3,378.9L362.2,364.9L365.9,352.9L370.8,340.9L375.3,332.9L381.2,324.9L386.9,319.5L390.9,316.7ZM578.4,344.9L582.9,344.2L588.9,344.1L594.8,344.9L598.9,345.9L604.9,348L608.9,349.9L613.7,352.9L618.9,356.9L622.9,360.9L626.3,364.9L629.1,368.9L632.6,374.9L635.2,380.9L637.3,386.9L638.8,392.9L639.7,398.9L640.3,408.9L639.8,414.9L638.9,418.9L637,424.9L635.2,428.9L630.2,436.9L626.9,440.9L622.9,444.9L618,448.9L612.9,452.2L607.7,454.9L602.9,456.8L592.9,459.2L586.9,459.7L582.9,459.5L574.9,458L568.9,455.8L564.9,453.9L559.8,450.9L554.9,447.4L549.6,442.9L545.6,438.9L539.1,430.9L535.4,424.9L533.6,420.9L531.3,412.9L530.9,408.9L531.2,402.9L533.1,392.9L535.1,386.9L537.7,380.9L543.6,370.9L548.1,364.9L551.7,360.9L555.8,356.9L560.8,352.9L568.9,348.1L572.9,346.5Z"/>
<path fill="rgb(148,204,0)" fill-rule="evenodd" d="M394.9,318.9L398.9,317.7L404.9,317.2L410.9,317.7L416.9,319.1L421.9,320.9L426.9,323.2L432.9,326.9L438.2,330.9L442.9,335L448.5,340.9L457.7,352.9L465.9,366.9L469.6,374.9L472.7,382.9L476,394.9L477.5,404.9L477.7,414.9L476.7,422.9L474.6,430.9L471.1,440.9L457.7,470.9L453.8,480.9L451.3,490.9L450.6,498.9L450.7,502.9L451.7,508.9L455,518.9L461.1,530.9L470.9,546L480.9,559.1L490.9,569.9L494.9,573.2L498.9,575.7L502.9,577.3L506.9,578L510.9,577.7L516.9,575.9L522.9,572.9L540.1,562.9L548.9,558.3L558.9,554.1L568.9,551.2L578.9,550L588.9,550.6L598.9,553.2L604.9,555.8L608.9,558L614.9,562.1L618.9,565.5L622.9,569.6L627.1,574.9L629.7,578.9L632.7,584.9L634.9,590.9L636.3,596.9L636.9,601.6L637,606.9L636.1,612.9L634.8,616.9L632.8,620.9L628.9,626.4L624.9,630.5L620.9,633.8L612.3,638.9L606.9,641.2L600.9,643.2L588.9,645.5L582.9,645.9L574.9,645.9L562.9,644.5L550.9,641.6L540.9,638.2L520.9,629.7L514.9,627.7L508.9,626.6L502.9,626.9L496.9,628.8L488.9,633.4L460.9,655.6L452.9,661.2L444.9,666L436.9,669.9L426.9,673.6L418.9,675.6L410.9,676.7L402.9,677L396.9,676.5L388.9,674.5L382.9,672.1L376.9,668.6L370.9,664L365.9,658.9L361.1,652.9L355.4,642.9L352.8,636.9L350.8,630.9L348.3,618.9L347.2,604.9L347.4,596.9L348.1,586.9L350.9,569.7L355.4,552.9L366.6,518.9L368.8,508.9L369.7,500.9L369.7,492.9L368.6,482.9L361.5,448.9L359,430.9L358.2,412.9L359.3,392.9L361.3,378.9L363.9,366.9L367.5,354.9L371.6,344.9L376.9,335.4L382.9,327.6L388.9,322.2ZM576.6,350.9L580.9,349.9L584.9,349.5L588.9,349.6L594.9,350.5L600.9,352.2L604.9,353.8L613.2,358.9L616.9,362L620.9,366.2L627.1,374.9L631.7,384.9L633.5,390.9L634.8,396.9L635.7,406.9L635.6,410.9L634.9,416L633.6,420.9L632.1,424.9L627.5,432.9L624.4,436.9L620.9,440.6L612.9,446.8L604.9,450.9L600.9,452.4L594.9,453.9L588.9,454.6L584.9,454.7L576.9,453.5L568.9,450.7L564.9,448.6L559.2,444.9L550.9,437.6L546.8,432.9L544,428.9L539.8,420.9L537.6,412.9L537.3,404.9L538.8,394.9L542.1,384.9L547.3,374.9L553.1,366.9L560.9,359.3L568.9,354Z"/>
<path fill="rgb(166,213,0)" fill-rule="evenodd" d="M395,322.9L398.9,321.6L402.9,321.2L408.9,321.5L414.9,322.6L420.9,324.6L426.9,327.5L432.3,330.9L436.9,334.4L441.8,338.9L446.9,344.4L454.9,355L458.5,360.9L462.8,368.9L468.5,382.9L471.6,394.9L473.1,404.9L473.3,414.9L472.4,422.9L470.6,430.9L467.3,440.9L463.1,450.9L454,470.9L450.1,480.9L447.4,490.9L446.7,498.9L446.9,502.9L448,508.9L449.8,514.9L452.3,520.9L460.1,534.9L472.9,553.8L484.9,569.6L492.9,578.6L496.9,582.2L500.9,584.8L502.9,585.7L506.9,586.5L510.9,586L514.9,584.4L518.9,582.2L535.4,570.9L545.2,564.9L554.9,560L564.9,556.5L574.9,554.6L584.9,554.5L594.9,556.3L600.9,558.5L604.9,560.4L610.9,564.2L614.9,567.3L618.9,571.1L622.9,575.8L626.3,580.9L628.9,585.9L630.8,590.9L632.4,596.9L632.9,600.9L633.1,606.9L632.1,612.9L630.6,616.9L628.5,620.9L625.6,624.9L621.7,628.9L616.9,632.7L612.9,635.1L606.9,638L596.9,641.2L584.9,643L578.9,643.2L570.9,642.8L558.9,640.7L546.5,636.9L537.2,632.9L518.9,623.5L512.9,621L506.9,619.9L502.9,620.4L498.9,621.8L492.9,625.5L486.9,630.3L463.4,650.9L454.9,657.3L446.9,662.5L436.9,667.8L428.9,670.9L418.9,673.6L410.9,674.8L402.9,675.1L396.9,674.5L390.9,673.2L384.9,670.9L378.9,667.7L372.9,663.3L368.2,658.9L362.9,652.5L356.9,642.4L352.4,630.9L349.7,618.9L348.6,604.9L348.8,596.9L349.6,586.9L350.7,578.9L352.7,568.9L357.1,552.9L369,518.9L371.3,508.9L372.3,500.9L372.2,492.9L371.4,484.9L363.6,448.9L360.8,430.9L360,414.9L361,394.9L362.9,380.9L365.5,368.9L368.9,357.6L372.9,347.8L377.8,338.9L382.9,332.1L388.9,326.4ZM576.2,356.9L580.9,355.7L584.9,355.3L592.9,355.9L600.9,358.2L604.9,360.1L609.4,362.9L616.3,368.9L619.6,372.9L622.3,376.9L626.4,384.9L629.5,394.9L630.8,404.9L630.6,412.9L628.6,420.9L624.5,428.9L618.9,435.9L614.9,439.5L610.9,442.4L602.9,446.5L594.9,448.8L586.9,449.7L578.9,448.9L570.9,446.3L564.6,442.9L557,436.9L551.6,430.9L546.6,422.9L543.8,414.9L543,406.9L544.2,396.9L546.9,387.7L550.9,379.2L556.7,370.9L562.5,364.9L568.9,360.3Z"/>
<path fill="rgb(185,222,0)" fill-rule="evenodd" d="M395.1,326.9L398.9,325.6L402.9,325.1L406.9,325.2L412.9,326.1L418.9,327.9L422.9,329.6L428.8,332.9L432.9,335.8L440.9,342.9L449.3,352.9L456.8,364.9L462.4,376.9L466.3,388.9L468.7,400.9L469.5,412.9L468.6,422.9L466.3,432.9L462.9,442.9L448.6,474.9L445,484.9L443.5,490.9L443,494.9L442.8,498.9L443.3,504.9L444.7,510.9L446.9,516.9L449.8,522.9L454.3,530.9L466.9,550.2L499.5,596.9L501.9,600.9L503,604.9L502.7,606.9L499.9,610.9L479.3,632.9L464.7,646.9L452.9,656.2L442.3,662.9L430.9,668.2L418.9,671.7L412.9,672.7L406.9,673.1L400.9,673.1L394.9,672.2L388.9,670.5L384.9,668.9L378.9,665.6L374.9,662.7L370.9,659.2L366.9,654.9L362.9,649.6L360,644.9L357,638.9L354.7,632.9L351.5,620.9L350.7,614.9L350.1,606.9L350.1,598.9L350.8,588.9L352.2,578.9L354.2,568.9L358.9,552.9L372,516.9L374,508.9L375,500.9L374.9,492.9L374,484.9L365.6,448.9L363.8,438.9L362.5,428.9L361.9,418.9L362,408.9L362.7,396.9L364.2,384.9L366.1,374.9L368.9,364.4L372.3,354.9L376.1,346.9L380.9,339.2L384.9,334.3L388.9,330.6ZM577.1,362.9L580.9,361.9L584.9,361.4L592.9,362L596.9,363.1L600.9,364.7L606.9,368.2L612.9,373.6L618.4,380.9L622.3,388.9L624.6,396.9L625.7,404.9L625.4,412.9L623.9,418.9L620.9,425.2L616.7,430.9L610,436.9L602.9,441L594.9,443.6L586.9,444.5L580.9,444.1L572.9,441.7L566.9,438.5L560.9,433.8L556.5,428.9L552.6,422.9L550.8,418.9L549.6,414.9L548.9,410.9L548.8,406.9L549.6,398.9L551.7,390.9L555.2,382.9L559,376.9L564.9,370.3L570.9,365.8ZM574.3,558.9L582.9,558.6L590.9,559.7L598.9,562.2L606.9,566.4L612.9,570.9L618.9,577.2L622.9,583L626.6,590.9L628.2,596.9L629.1,604.9L628.5,610.9L626.4,616.9L622.6,622.9L616.9,628.5L610.3,632.9L602.9,636.3L596.9,638.2L590.9,639.4L578.9,640.3L566.9,639.3L554.9,636.5L542.9,631.7L530.9,624.9L525.2,620.9L517.8,614.9L513.7,610.9L510.8,606.9L510.3,604.9L511.8,600.9L516.4,594.9L526,584.9L537.8,574.9L546.9,568.8L556.9,563.7L564.9,560.8Z"/>
<path fill="rgb(202,230,0)" fill-rule="evenodd" d="M395.2,330.9L398.9,329.6L402.9,329.1L406.9,329.2L412.9,330.1L418.9,332L422.9,333.8L431.1,338.9L435.9,342.9L440,346.9L448,356.9L455,368.9L460.1,380.9L463.5,392.9L465.2,402.9L465.7,414.9L464.6,424.9L462.2,434.9L458.6,444.9L444.8,474.9L441.6,482.9L439.1,492.9L438.7,498.9L439,502.9L439.7,506.9L441.6,512.9L444.2,518.9L447.4,524.9L454.8,536.9L476,568.9L485.4,584.9L489.8,594.9L491.5,602.9L491.4,606.9L489.7,612.9L487.6,616.9L483.6,622.9L477.2,630.9L471.7,636.9L463.6,644.9L456.6,650.9L444.9,659.2L438.9,662.6L432.9,665.4L426.9,667.6L420.9,669.3L414.9,670.5L406.9,671.2L400.9,671.2L396.9,670.7L390.9,669.3L386.9,667.8L381.2,664.9L376.9,662L372.9,658.7L368.9,654.6L364.9,649.6L361.8,644.9L358.7,638.9L356.2,632.9L353,620.9L352.1,614.9L351.5,606.9L351.5,598.9L352.2,588.9L353.7,578.9L355.8,568.9L361.4,550.9L374.6,516.9L376.7,508.9L377.8,500.9L377.8,492.9L376.7,484.9L367.6,448.9L365.7,438.9L364.4,428.9L363.7,418.9L363.8,408.9L364.6,396.9L365.8,386.9L367.7,376.9L370.4,366.9L373.2,358.9L376.9,350.7L380.9,343.9L384.9,338.8L390.9,333.3ZM580,368.9L582.9,368.3L586.9,368L592.9,368.9L598.9,371L604.9,374.7L609.4,378.9L613.8,384.9L616.9,391.1L619.2,398.9L620.1,406.9L619.7,412.9L617.9,418.9L614.9,424.3L610.9,429L604.9,433.7L598.9,436.7L592.9,438.4L586.9,439.1L580.9,438.5L574.9,436.7L568.9,433.4L563.6,428.9L560.3,424.9L557,418.9L555.2,412.9L554.7,406.9L555.6,398.9L558,390.9L560.8,384.9L564.9,379.1L569,374.9L574.9,370.9ZM578.1,562.9L586.9,563.3L594.9,565.3L602.9,568.9L608.7,572.9L614.9,578.9L619.2,584.9L622.1,590.9L624.3,598.9L624.9,604.9L624.2,610.9L621.9,616.9L617.6,622.9L614.9,625.5L610.9,628.6L604.9,632L596.9,635L588.9,636.7L578.9,637.4L568.9,636.6L558.9,634.3L549.6,630.9L544.9,628.6L538.7,624.9L531.2,618.9L526.2,612.9L524.4,608.9L524,606.9L524.4,600.9L525.8,596.9L527.9,592.9L534.1,584.9L540.9,578.5L548.9,572.7L558.9,567.4L568.9,564.2Z"/>
<path fill="rgb(220,238,0)" fill-rule="evenodd" d="M395.4,334.9L398.9,333.6L402.9,333.1L406.9,333.2L412.9,334.2L418.9,336.1L422.9,338L430.9,343.3L439,350.9L446.6,360.9L452.3,370.9L457.2,382.9L460,392.9L461.9,404.9L462.2,414.9L461.2,424.9L458.8,434.9L455.2,444.9L450.8,454.9L440,476.9L436.8,484.9L435.1,490.9L434.5,494.9L434.7,502.9L435.6,506.9L437.6,512.9L442.7,522.9L467.6,560.9L478.1,578.9L481.9,586.9L484,592.9L485.4,598.9L485.8,602.9L485.4,608.9L484.4,612.9L481.7,618.9L479.3,622.9L473.5,630.9L468.4,636.9L462.6,642.9L455.9,648.9L444.9,656.9L438.9,660.4L432.9,663.3L426.9,665.7L420.9,667.4L414.9,668.6L406.9,669.4L400.9,669.3L396.9,668.8L390.9,667.4L386.9,665.8L381.3,662.9L376.9,659.8L372.9,656.4L368.9,652.1L365,646.9L362.5,642.9L359.5,636.9L357.1,630.9L354.1,618.9L352.9,606.9L352.9,598.9L353.7,588.9L355.2,578.9L357.4,568.9L359.7,560.9L363.2,550.9L377.3,516.9L379.7,508.9L380.9,500.9L380.8,492.9L379.6,484.9L370.2,450.9L368,440.9L366.5,430.9L365.7,420.9L365.6,410.9L366.3,398.9L367.5,388.9L369.3,378.9L372,368.9L374.9,360.7L378.5,352.9L382.9,345.9L386.9,341.1L390.9,337.6ZM579.8,376.9L584.9,375.8L588.9,375.9L593.2,376.9L598.9,379.5L602.9,382.5L606.9,387L610.3,392.9L612.4,398.9L613.4,404.9L613.6,408.9L612.9,413.4L610.7,418.9L606.9,424.1L602.9,427.6L598.9,429.9L592.9,432.1L586.9,432.9L582.9,432.6L576.9,430.9L573.1,428.9L568.9,425.5L565.1,420.9L563,416.9L561.7,412.9L561.2,408.9L561.5,402.9L562.8,396.9L565.1,390.9L567.5,386.9L570.9,382.8L574.9,379.4ZM568.1,568.9L574.9,567.6L580.9,567.3L586.9,567.9L592.9,569.3L598.9,571.8L604.1,574.9L608.9,578.9L612.9,583.4L616.4,588.9L618.8,594.9L620.1,600.9L620.4,606.9L619.1,612.9L617.1,616.9L614.1,620.9L608.9,625.6L604.9,628.1L600.9,630L596.9,631.5L590.9,633.1L580.9,634.2L570.9,633.6L564.9,632.5L559.2,630.9L549.8,626.9L544.9,624L540.8,620.9L535.2,614.9L533.9,612.9L532.3,608.9L532,606.9L532.1,602.9L533.6,596.9L535.5,592.9L538.1,588.9L543.5,582.9L550.9,576.9L558.9,572.3Z"/>
<path fill="rgb(238,247,0)" fill-rule="evenodd" d="M395.6,338.9L398.9,337.7L402.9,337.1L410.9,337.8L415.2,338.9L420.9,341.3L428.9,346.3L436.9,353.8L443.9,362.9L449.6,372.9L454.3,384.9L457,394.9L458.6,406.9L458.8,416.9L457.5,426.9L454.8,436.9L451,446.9L446.3,456.9L435.8,476.9L432.3,484.9L430,492.9L429.6,496.9L429.8,500.9L431.7,508.9L436.6,518.9L441.6,526.9L462.1,556.9L468.2,566.9L473.7,576.9L477.2,584.9L479.3,590.9L480.7,596.9L481.3,602.9L481,608.9L480.1,612.9L477.8,618.9L475.7,622.9L471.7,628.9L467,634.9L461.5,640.9L455.1,646.9L448.9,651.9L442.9,656L436.9,659.4L430.9,662.2L424.9,664.4L418.9,666L412.9,667.1L406.9,667.6L400.9,667.5L396.9,667L390.9,665.5L386.9,663.9L382.9,661.8L378.5,658.9L373.8,654.9L370,650.9L366.9,646.9L363.1,640.9L358.7,630.9L356.8,624.9L355.5,618.9L354.3,606.9L354.4,596.9L355.3,586.9L357,576.9L359.5,566.9L362,558.9L365.8,548.9L380.9,514.9L383.4,506.9L384.3,500.9L384.4,494.9L383.2,486.9L381.1,478.9L372.9,452.9L370.4,442.9L368.7,432.9L367.6,422.9L367.4,412.9L368,400.9L369.2,390.9L370.9,381.3L373,372.9L375.7,364.9L378.9,357.6L382.9,350.7L386.9,345.6L390.9,341.8ZM580.5,386.9L582.9,386L586.9,385.5L590.9,386.3L594.9,388.1L598.4,390.9L600.9,393.9L602.7,396.9L604.2,400.9L605.1,404.9L605.3,408.9L604.9,411.4L603.6,414.9L600.9,418.9L598.9,420.8L595.6,422.9L592.9,424.1L588.9,425L584.9,425.2L582.9,424.9L578.9,423.5L575,420.9L573,418.9L570.9,415.6L569.8,412.9L569,406.9L569.5,402.9L570.9,397.9L572.9,394L574.9,391.2L577.3,388.9ZM571.4,572.9L576.9,572.1L582.9,572.1L588.9,573.1L594.5,574.9L598.9,577.1L604.1,580.9L608.1,584.9L610.9,588.9L613,592.9L614.9,598.9L615.6,604.9L615.3,608.9L614.1,612.9L610.9,618.1L606.9,622.1L602.9,624.9L594.9,628.4L586.9,630.3L578.9,630.8L568.9,629.8L559,626.9L551.1,622.9L545.9,618.9L542.9,615.7L541,612.9L540,610.9L539,606.9L539.4,600.9L541.5,594.9L545.3,588.9L550.9,583.1L556.9,578.7L564.7,574.9Z"/>
<path fill="rgb(255,255,0)" fill-rule="evenodd" d="M396,342.9L398.9,341.8L402.9,341.1L406.9,341.3L412.9,342.4L420.9,345.6L428.8,350.9L432.9,354.6L436.8,358.9L442.5,366.9L447.8,376.9L451.5,386.9L454,396.9L455.4,408.9L455.3,418.9L453.7,428.9L450.8,438.9L446.7,448.9L440.9,460.1L430.2,478.9L426.4,486.9L425,490.9L424.2,494.9L424.3,500.9L425.9,506.9L429.9,514.9L435.1,522.9L456.5,552.9L462.9,562.9L468.5,572.9L472.3,580.9L475.2,588.9L477.1,596.9L477.6,602.9L477.3,608.9L476.5,612.9L475.2,616.9L472.4,622.9L468.6,628.9L464,634.9L454.4,644.9L448.9,649.5L442.9,653.8L436.9,657.3L430.9,660.2L424.9,662.5L418.9,664.2L412.9,665.3L406.9,665.8L400.9,665.7L396.9,665.2L390.9,663.6L386.9,662L378.9,657.1L374.9,653.7L370.9,649.5L364.9,640.9L360.2,630.9L358.3,624.9L357,618.9L355.7,606.9L355.8,596.9L356.8,586.9L358.5,576.9L361.1,566.9L364.5,556.9L368.9,546.1L385,512.9L387.6,504.9L388.4,498.9L388.1,492.9L386.9,486.9L375.1,452.9L372.9,444.6L370.9,434.6L369.7,424.9L369.3,414.9L369.8,402.9L371.2,390.9L372.9,381.8L374.9,374.2L377.4,366.9L380.9,359.2L384.8,352.9L388.1,348.9L392.6,344.9ZM568.7,578.9L576.9,577.2L582.9,577.2L586.9,577.9L590.9,579L595.1,580.9L598.9,583.3L602.9,586.9L606,590.9L608.1,594.9L609.5,598.9L610.3,604.9L609.9,608.9L608.4,612.9L606.9,615.4L603.7,618.9L597.8,622.9L590.9,625.5L582.9,626.9L575.8,626.9L566.9,625.3L560.3,622.9L553.7,618.9L549.5,614.9L547.1,610.9L546,606.9L546.4,600.9L548.7,594.9L552.9,589L556.9,585.3L562.9,581.4Z"/>
<path fill="rgb(255,243,0)" fill-rule="evenodd" d="M396.5,346.9L398.9,345.9L402.9,345.3L406.9,345.4L410.9,346.1L414.9,347.2L418.9,348.9L422.9,351.2L426.9,354.1L433.8,360.9L439.7,368.9L445,378.9L448.7,388.9L451.3,400.9L452.3,412.9L451.6,422.9L449.4,432.9L445.9,442.9L440.9,453.3L434.9,463.6L419.9,486.9L417.4,492.9L416.8,496.9L416.8,498.9L418.5,504.9L421.9,510.9L449.5,546.9L457.7,558.9L463.6,568.9L468.5,578.9L471.5,586.9L473.5,594.9L474.3,602.9L474,608.9L473.3,612.9L472,616.9L469.3,622.9L465.7,628.9L461.2,634.9L455.7,640.9L451.5,644.9L446.6,648.9L440.9,652.9L430.9,658.3L424.9,660.6L418.9,662.3L412.9,663.5L406.9,664L400.9,663.9L396.9,663.4L388.9,661L380.9,656.5L376.9,653.3L372.5,648.9L366.6,640.9L361.8,630.9L359.8,624.9L358.4,618.9L357.1,606.9L357.2,596.9L358.5,584.9L360.9,573.2L364,562.9L367.8,552.9L372.9,542L390.1,510.9L392.5,504.9L393.5,500.9L393.6,494.9L392.2,488.9L380.9,462.3L377.5,452.9L374.9,443.8L372.1,428.9L371.4,420.9L371.2,412.9L371.9,400.9L373.6,388.9L375.8,378.9L378.9,369.6L382.9,361.1L386.9,355L390.9,350.7ZM569.5,584.9L576.9,583.1L580.9,583L584.9,583.5L590.9,585.5L593.5,586.9L596.9,589.5L598.9,591.6L601.3,594.9L603,598.9L603.9,602.9L604,606.9L603.6,608.9L601.7,612.9L600.1,614.9L594.9,618.9L590.9,620.7L584.9,622.2L578.9,622.6L572.9,622L566.9,620.4L562.9,618.6L557.8,614.9L554.7,610.9L553.5,606.9L553.6,602.9L554.6,598.9L556.7,594.9L560,590.9L564.9,587.1Z"/>
<path fill="rgb(255,231,0)" fill-rule="evenodd" d="M397.2,350.9L400.9,349.7L404.9,349.5L410.9,350.4L414.9,351.6L418.9,353.5L422.9,355.9L426.9,359.1L430.9,363L434.9,368L438.1,372.9L443.1,382.9L446.8,394.9L448,400.9L448.9,408.9L448.8,418.9L447.2,428.9L444,438.9L438.4,450.9L430.9,462.9L420.9,475.7L414.9,482L410.9,485.6L406.9,488.1L404.9,488.7L402.9,488.7L400.9,488L396.9,484.3L390.9,475.6L384.9,464.5L380.8,454.9L376.9,442.9L374.7,432.9L373.4,420.9L373.3,408.9L374.4,396.9L376.1,386.9L378.9,376.5L382.8,366.9L386.9,360L391.4,354.9L394.9,352.1ZM400.6,506.9L402.9,505.9L404.9,505.9L406.9,506.5L410.9,508.8L414.9,511.9L422.9,519.5L430.9,528L438.9,537.2L446.9,547.4L457.4,562.9L464.8,576.9L469.2,588.9L470.5,594.9L471.2,600.9L471.2,606.9L470.7,610.9L469.7,614.9L467.4,620.9L464.2,626.9L460,632.9L454.9,638.9L450.9,642.8L446.1,646.9L440.6,650.9L434.9,654.3L429.6,656.9L418.9,660.5L412.9,661.7L406.9,662.2L400.9,662.1L396.9,661.6L388.9,659.1L384.9,657.1L380.9,654.4L376.9,651.1L372.9,647L367.2,638.9L362.6,628.9L359.8,618.9L358.5,606.9L358.7,594.9L360.6,580.9L364.3,566.9L368.8,554.9L374.9,542.3L384.9,525.9L394.9,512.4L398.9,508.1ZM576.2,590.9L580.9,590.6L583,590.9L586.9,592.1L591.1,594.9L594.2,598.9L595.1,600.9L595.8,604.9L595.1,608.9L592.9,612L588.9,614.9L582.9,616.6L578.9,616.9L574.9,616.4L570,614.9L566.9,613.1L564.6,610.9L563.3,608.9L562.7,606.9L562.8,602.9L563.4,600.9L564.9,598L567.7,594.9L570.6,592.9Z"/>
<path fill="rgb(255,218,0)" fill-rule="evenodd" d="M398.4,354.9L402.9,353.9L406.9,354.1L410.9,354.8L414.9,356.2L418.9,358.2L422.9,360.8L426.9,364.3L430.9,368.7L436.4,376.9L440.9,386.9L442.8,392.9L444.2,398.9L445.7,410.9L445.3,420.9L443.3,430.9L439.7,440.9L434.5,450.9L426.9,461.8L418.9,470.3L414.9,473.6L410.9,476L406.9,477.5L404.9,477.8L400.9,477.5L398.9,476.6L394.9,473.2L390.9,468.3L385.5,458.9L381.2,448.9L378.2,438.9L376.2,428.9L375.3,418.9L375.4,408.9L376.5,396.9L378.4,386.9L380.9,378.1L384.9,368.9L388.9,362.5L392.9,358.3L394.9,356.7ZM398.6,516.9L400.9,515.9L402.9,515.5L406.9,515.7L410.9,517L414.9,519L420.9,523.3L426.9,528.5L432.9,534.5L440.9,543.6L446.9,551.3L452.2,558.9L457.1,566.9L461.2,574.9L464.6,582.9L466.4,588.9L467.7,594.9L468.4,600.9L468.4,606.9L467.9,610.9L466.3,616.9L464.7,620.9L461.5,626.9L458.8,630.9L455.7,634.9L450.9,640.2L445.6,644.9L440.9,648.5L430.9,654.3L420.9,658.2L414.9,659.6L408.9,660.3L402.9,660.5L398.9,660.1L390.9,658L386.9,656.2L382.9,653.8L378.9,650.8L374.9,646.9L369,638.9L364.9,630.9L361.7,620.9L360.6,614.9L359.9,608.9L360,596.9L361.7,582.9L364.6,570.9L368.9,558.8L374.9,546.3L382.9,533.4L390.9,523.3L394.9,519.4Z"/>
<path fill="rgb(255,206,0)" fill-rule="evenodd" d="M400.4,358.9L402.9,358.5L406.9,358.7L410.9,359.5L414.9,360.9L418.9,363.1L422.9,366.1L428.9,372.4L434.4,380.9L438.6,390.9L441.1,400.9L442.3,410.9L442,420.9L439.8,430.9L436.9,438.9L431.5,448.9L424.9,457.8L418.9,463.7L414.9,466.7L410.9,468.9L404.9,470.4L400.9,470.1L396.9,468.1L392.9,464.2L390.9,461.7L386.9,455.1L383.2,446.9L380.6,438.9L378.5,428.9L377.4,418.9L377.5,408.9L378.8,396.9L380.8,386.9L383.3,378.9L386.9,371.2L390.9,365.4L394.9,361.6L396.9,360.3ZM398,522.9L400.9,521.8L404.9,521.5L408.9,522.1L414.9,524.3L418.9,526.7L424.9,531.1L430.9,536.5L436.9,542.7L442.9,549.8L448.2,556.9L452.9,564.2L456.7,570.9L460.5,578.9L462.7,584.9L464.3,590.9L465.6,598.9L465.5,608.9L464.3,614.9L462.9,618.9L460.1,624.9L457.6,628.9L450.9,637.4L446.9,641.3L440.9,646.3L430.9,652.4L420.9,656.3L414.9,657.8L408.9,658.6L402.9,658.7L398.9,658.3L390.9,656.2L386.9,654.3L382.9,651.8L377.1,646.9L370.9,639.1L366.5,630.9L363.1,620.9L361.5,610.9L361.2,598.9L362.8,584.9L365.6,572.9L369.8,560.9L375.6,548.9L382.9,537.4L386.9,532.3L390.9,528.1L394.9,524.7Z"/>
<path fill="rgb(255,194,0)" fill-rule="evenodd" d="M397.6,364.9L400.9,363.6L402.9,363.3L406.9,363.5L410.9,364.4L414.9,366L418.9,368.5L424.9,373.9L430,380.9L434,388.9L437.1,398.9L438.7,408.9L438.8,416.9L437.3,426.9L433.9,436.9L429.6,444.9L426.9,448.9L422.9,453.7L416.9,459.1L410.9,462.5L404.9,464L400.9,463.7L396.9,461.7L392.9,457.9L388.9,452.2L385.4,444.9L382.9,437.9L380.9,429.5L379.8,420.9L379.6,412.9L380.3,402.9L381.9,392.9L384.1,384.9L386.9,377.7L389.6,372.9L392.9,368.6L394.9,366.7ZM399.9,526.9L402.9,526.3L406.9,526.5L410.9,527.3L416.9,529.8L420.9,532.2L426.9,536.7L432.9,542.2L438.9,548.6L448.2,560.9L452.9,568.5L456.2,574.9L459.5,582.9L461.3,588.9L462.6,594.9L463.2,600.9L463.2,606.9L462.7,610.9L461.8,614.9L459.6,620.9L456.4,626.9L453.7,630.9L446.9,638.7L438.9,645.5L433.6,648.9L428.9,651.4L418.9,655L412.9,656.3L406.9,656.9L398.9,656.6L394.9,655.7L390.9,654.3L386.9,652.4L382.9,649.8L376.9,644.4L371.3,636.9L367.2,628.9L364.1,618.9L362.7,608.9L362.7,596.9L364.6,582.9L367.8,570.9L372.5,558.9L378.9,547L382.9,541.2L386.9,536.3L392.9,530.6L396.9,528Z"/>
<path fill="rgb(255,182,0)" fill-rule="evenodd" d="M400.7,368.9L402.9,368.5L406.9,368.7L412.9,370.5L418.9,374.3L421.7,376.9L424.9,380.7L428.9,387.2L432.1,394.9L434.1,402.9L435.2,412.9L434.8,420.9L433,428.9L429.7,436.9L426.2,442.9L421.4,448.9L416.9,452.9L410.9,456.4L404.9,457.9L400.9,457.6L396.9,455.6L392.9,451.6L389.8,446.9L386.9,441L384.8,434.9L383,426.9L382.1,418.9L382.1,410.9L383,400.9L384.6,392.9L386.9,385.4L389.9,378.9L392.9,374.5L396.9,370.7ZM400.5,530.9L404.9,530.5L408.9,530.9L412.9,532L418.9,534.8L422.9,537.3L428.9,542L434.9,547.8L438.9,552.2L444.1,558.9L448.2,564.9L454.7,576.9L457.1,582.9L458.9,588.9L460.2,594.9L460.8,600.9L460.7,606.9L460.3,610.9L458,618.9L455.1,624.9L452.6,628.9L446,636.9L441.8,640.9L436.9,644.7L432.9,647.2L426.9,650.3L416.9,653.7L406.9,655.1L398.9,654.8L394.9,653.9L390.9,652.5L386.9,650.4L382.9,647.7L376.9,642L371.9,634.9L368,626.9L365.1,616.9L364,606.9L364.3,594.9L366.1,582.9L369.4,570.9L374.3,558.9L380.9,547.6L386.9,540L392.9,534.5L396.9,532.1Z"/>
<path fill="rgb(255,170,0)" fill-rule="evenodd" d="M400,374.9L402.9,374.2L404.9,374.2L410.9,375.6L416.6,378.9L420.9,383.1L424.9,388.9L427.6,394.9L430,402.9L431.2,410.9L431.1,418.9L430,424.9L428,430.9L424.9,437.1L420.6,442.9L414.9,448L410.9,450.3L404.9,451.8L400.9,451.5L396.9,449.3L394.4,446.9L391.6,442.9L388.9,437.6L386.9,431.8L385.4,424.9L384.7,418.9L384.7,410.9L385.5,402.9L386.9,395.6L388.9,389.1L390.9,384.5L394.6,378.9L396.9,376.7ZM399.6,534.9L402.9,534.3L406.9,534.4L412.9,535.7L416.9,537.4L424.9,542.2L430.9,547.3L434.9,551.2L439.8,556.9L444.3,562.9L448.1,568.9L451.3,574.9L453.9,580.9L456,586.9L457.4,592.9L458.3,598.9L458.2,608.9L456.3,616.9L453.8,622.9L451.5,626.9L445.3,634.9L441.2,638.9L436.9,642.4L428.9,647.4L424.9,649.3L418.9,651.4L408.9,653.2L400.9,653.3L396.9,652.6L392.9,651.4L386.9,648.4L382.9,645.6L379.9,642.9L376.9,639.5L373.6,634.9L369.6,626.9L367,618.9L365.5,608.9L365.5,596.9L367.1,584.9L370.3,572.9L374.3,562.9L376.9,557.7L380.9,551.1L386.9,543.5L392.9,538.2L396.9,535.9Z"/>
<path fill="rgb(255,158,0)" fill-rule="evenodd" d="M401.3,380.9L402.9,380.6L406.9,380.8L410.9,382.2L414.9,384.8L418.8,388.9L422.5,394.9L424.8,400.9L426.2,406.9L426.9,412.9L426.6,418.9L425.4,424.9L423,430.9L420.9,434.5L416.9,439.4L412.9,442.6L408.9,444.5L404.9,445.4L400.9,445L398.9,444.1L395.3,440.9L392.9,437.4L390.8,432.9L388.9,427L387.6,416.9L387.7,410.9L388.3,404.9L389.4,398.9L390.9,393.9L392.9,389.2L394.9,386L397.7,382.9ZM398.1,538.9L402.9,537.8L406.9,537.9L410.9,538.6L414.9,539.9L418.9,541.8L424.9,545.6L433.2,552.9L441.6,562.9L445.6,568.9L448.9,574.9L451.6,580.9L453.7,586.9L455.1,592.9L456,598.9L455.9,608.9L454,616.9L450.3,624.9L444.5,632.9L436.9,640.1L428.9,645.3L424.9,647.3L418.9,649.5L413.1,650.9L408.9,651.4L400.9,651.5L396.9,650.8L392.9,649.5L386.9,646.4L380.9,641.6L375.4,634.9L372.1,628.9L369.1,620.9L367.1,610.9L366.7,600.9L367.9,588.9L370.6,576.9L374.3,566.9L378.9,557.8L384.9,549.2L390.9,543.1L394.9,540.4Z"/>
<path fill="rgb(255,146,0)" fill-rule="evenodd" d="M400.7,388.9L402.9,388.3L404.9,388.3L407.7,388.9L410.9,390.4L414.9,394.1L416.9,396.9L419.7,402.9L420.9,407.2L421.7,412.9L421.7,416.9L420.9,421.5L418.9,426.9L416.9,430.4L414.9,432.9L410.9,436.1L408.9,437.2L404.9,438.2L400.9,437.7L398.9,436.6L396.9,434.7L394.9,431.7L392.9,427.1L391.2,418.9L391.2,410.9L393,400.9L394.9,395.7L396.5,392.9L398.9,390.1ZM396.4,542.9L398.9,541.9L402.9,541.2L406.9,541.3L412.9,542.5L416.9,544.1L422.9,547.4L430.9,553.9L438.9,562.9L443,568.9L446.5,574.9L449.2,580.9L451.3,586.9L453.5,596.9L453.8,606.9L452.3,614.9L449,622.9L443.6,630.9L436.9,637.7L428.9,643.3L420.9,647L414.9,648.7L410.9,649.4L402.9,649.8L398.9,649.4L394.9,648.4L388.9,645.7L382.9,641.2L377.3,634.9L373.8,628.9L370.6,620.9L368.8,612.9L368.1,602.9L368.9,591.9L371.1,580.9L374.4,570.9L378.9,561.4L384.9,552.5L390.9,546.4Z"/>
<path fill="rgb(252,133,0)" fill-rule="evenodd" d="M400,400.9L400.9,399.9L402.9,399L404.9,399L406.9,399.6L408.9,400.8L410.9,402.9L412.1,404.9L414.3,410.9L414.6,416.9L412.9,422.4L411.3,424.9L409.2,426.9L406.9,428.2L404.9,428.8L402.9,428.8L400.9,428L398.9,426L396.9,421.9L396.2,418.9L395.9,414.9L396.5,408.9L397.7,404.9L398.9,402.2ZM399.8,544.9L402.9,544.4L408.9,544.7L412.9,545.7L416.9,547.2L424.9,552.1L432.5,558.9L436.9,564L440.4,568.9L446,578.9L449.6,588.9L451.4,598.9L451.5,606.9L450,614.9L446.7,622.9L444.2,626.9L441.1,630.9L434.9,636.9L426.9,642.3L418.9,645.7L414.6,646.9L408.9,647.8L400.9,647.8L394.9,646.5L388.9,643.6L382.9,638.9L377.9,632.9L373.6,624.9L371,616.9L369.8,608.9L369.7,598.9L370.8,588.9L373.2,578.9L377,568.9L381.3,560.9L386.9,553.5L392.9,548.1L396.9,545.9Z"/>
<path fill="rgb(245,120,0)" fill-rule="evenodd" d="M397.1,548.9L400.9,547.7L404.9,547.4L408.9,547.8L412.9,548.8L416.9,550.3L420.9,552.5L424.9,555.2L428.9,558.6L436.3,566.9L442.6,576.9L446.8,586.9L449,596.9L449.4,604.9L448.3,612.9L445.4,620.9L440.9,628L434.3,634.9L426.9,640.1L418.9,643.8L410.9,645.7L402.9,646.1L396.9,645.2L390.9,642.7L384.9,638.5L379.9,632.9L376.2,626.9L373.1,618.9L371.5,610.9L371.1,600.9L372,590.9L374.3,580.9L376.9,573.3L381.1,564.9L386.7,556.9L390.9,552.8L394.9,550Z"/>
<path fill="rgb(238,106,0)" fill-rule="evenodd" d="M400.4,550.9L402.9,550.5L406.9,550.6L410.9,551.2L414.9,552.5L418.9,554.4L422.9,556.9L429.9,562.9L436.5,570.9L441.2,578.9L445.1,588.9L447,598.9L447.1,606.9L445.5,614.9L444,618.9L441.9,622.9L437.5,628.9L431.2,634.9L424.9,639.1L416.9,642.4L408.9,644.1L400.9,644.1L395.9,642.9L390.9,640.7L384.9,636.1L380.4,630.9L376.9,624.7L374.1,616.9L372.7,608.9L372.6,600.9L373.6,590.9L375.9,580.9L378.9,572.9L383.3,564.9L388.9,557.8L394.9,553.1Z"/>
<path fill="rgb(232,93,0)" fill-rule="evenodd" d="M397.3,554.9L402.9,553.5L406.9,553.6L410.9,554.2L414.9,555.5L418.9,557.5L424.9,561.6L428.9,565.3L432.1,568.9L437.6,576.9L441.4,584.9L444.2,594.9L444.9,602.9L444.2,610.9L443.2,614.9L441.6,618.9L438.1,624.9L432.9,630.9L426.9,635.6L418.9,639.7L410.9,641.8L402.9,642.3L396.9,641.3L391.5,638.9L386.9,635.6L382.5,630.9L378.8,624.9L376.3,618.9L374.5,610.9L374,602.9L374.8,592.9L376.4,584.9L379.1,576.9L382.9,569.1L386.9,563.3L392.9,557.5Z"/>
<path fill="rgb(225,79,0)" fill-rule="evenodd" d="M400.4,556.9L402.9,556.5L406.9,556.5L410.9,557.2L414.9,558.6L420.9,561.8L427.1,566.9L432.9,573.8L437.2,580.9L440.4,588.9L441.5,592.9L442.4,598.9L442.5,606.9L441.5,612.9L439.2,618.9L434.9,625.6L429.8,630.9L422.9,635.7L416.9,638.3L408.9,640.1L402.9,640.3L396.9,639.2L391.9,636.9L386.9,633.1L382.9,628.5L379.7,622.9L377.4,616.9L375.9,608.9L375.7,600.9L376.8,590.9L378.9,582.4L381.9,574.9L386.8,566.9L390.9,562.3L394.9,559.2Z"/>
<path fill="rgb(219,66,0)" fill-rule="evenodd" d="M397.5,560.9L402.9,559.5L406.9,559.5L410.9,560.3L416.9,562.6L422.9,566.6L428.9,572.5L433.4,578.9L437.3,586.9L439.5,594.9L440.4,602.9L440,608.9L438.4,614.9L434.9,621.9L430.9,627L424.9,632L418.9,635.3L410.9,637.8L404.9,638.3L398.9,637.7L394.9,636.3L389.5,632.9L384.9,628.2L381.6,622.9L379.1,616.9L377.8,610.9L377.2,602.9L377.8,594.9L378.9,588.8L381.3,580.9L384.9,573.4L388.9,567.7L392.9,563.8Z"/>
<path fill="rgb(212,52,0)" fill-rule="evenodd" d="M400.7,562.9L406.9,562.6L412.9,564L418.9,567L424.9,571.9L430.6,578.9L433.9,584.9L436.1,590.9L437.7,598.9L438,604.9L437.2,610.9L435.1,616.9L431.5,622.9L426.9,627.7L420.9,632L414.9,634.6L408.9,635.9L402.9,636.1L398.9,635.5L392.9,632.9L388.9,629.8L384.9,625L382.6,620.9L380.3,614.9L379.2,608.9L378.9,600.9L379.8,592.9L381.8,584.9L384.2,578.9L386.9,574.1L390.9,568.9L394.9,565.5L396.9,564.3Z"/>
<path fill="rgb(198,43,0)" fill-rule="evenodd" d="M398.2,566.9L402.9,565.7L408.9,566L414.9,568L420.9,571.9L425.9,576.9L430.1,582.9L432.9,588.9L434.9,596.3L435.5,602.9L435.1,608.9L433.4,614.9L430.9,619.6L426.6,624.9L421.6,628.9L416.9,631.4L410.9,633.3L404.9,634L400.9,633.7L396.9,632.5L392.9,630.4L388.9,626.9L384.9,621.3L382.9,616.9L381.3,610.9L380.7,604.9L381,596.9L382.6,588.9L384.6,582.9L386.9,578.2L390.9,572.5L394.9,568.8Z"/>
<path fill="rgb(184,35,0)" fill-rule="evenodd" d="M402.7,568.9L406.9,568.9L412.9,570.5L418.9,573.9L422.9,577.6L427,582.9L430.1,588.9L432,594.9L432.9,600.9L432.8,606.9L432.1,610.9L429.7,616.9L426.9,621L422.9,625L416.9,628.9L411.1,630.9L406.9,631.5L402.9,631.6L398.9,630.8L394.9,629L390.9,625.9L386.9,620.9L384.9,616.9L383.2,610.9L382.6,606.9L382.7,598.9L383.6,592.9L385.3,586.9L387.9,580.9L390.9,576.3L394.9,572.3L398.9,569.9Z"/>
<path fill="rgb(170,26,0)" fill-rule="evenodd" d="M400.1,572.9L404.9,572.2L408.9,572.6L414.7,574.9L418.9,577.8L422.9,582L426.1,586.9L428.7,592.9L430,598.9L430.3,604.9L429.8,608.9L427.7,614.9L425.3,618.9L422.9,621.6L418.8,624.9L414.9,627L408.9,628.8L404.9,629.1L400.9,628.8L396.9,627.4L393.2,624.9L390.9,622.6L388.3,618.9L386.4,614.9L384.9,608.9L384.5,602.9L384.9,597.2L386.2,590.9L387.6,586.9L389.5,582.9L392.9,578L396.9,574.5Z"/>
<path fill="rgb(156,17,0)" fill-rule="evenodd" d="M399.4,576.9L402.9,575.9L408.9,576.3L412.9,577.8L416.9,580.4L419.6,582.9L422.9,587.3L424.9,591.2L426.7,596.9L427.3,600.9L427.2,606.9L426.3,610.9L424.5,614.9L421.6,618.9L416.9,622.8L412.9,624.9L408.9,626L404.9,626.4L400.9,626L398,624.9L394.9,623L392.6,620.9L389.8,616.9L388.1,612.9L387.1,608.9L386.7,604.9L386.9,598.9L388.9,590.1L390.9,585.6L392.9,582.4L396.2,578.9Z"/>
<path fill="rgb(142,8,0)" fill-rule="evenodd" d="M399.7,580.9L402.9,579.9L406.9,579.9L410.9,581L414.2,582.9L416.9,585.2L419.9,588.9L422,592.9L423.4,596.9L424.1,600.9L424.2,604.9L423.6,608.9L422,612.9L419.2,616.9L416.9,619.1L412.9,621.5L408.9,622.9L402.9,623.2L400.9,622.8L396.9,621L392.9,616.9L390.7,612.9L389.6,608.9L389.1,604.9L389.2,600.9L389.7,596.9L390.9,592.3L392.9,587.8L394.9,584.8L396.9,582.7Z"/>
<path fill="rgb(132,3,0)" fill-rule="evenodd" d="M401.3,584.9L402.9,584.4L406.9,584.5L408.9,585L412.9,587.2L414.9,588.9L417.8,592.9L419.5,596.9L420.3,600.9L420.2,606.9L418.9,610.9L417.7,612.9L416.1,614.9L412.9,617.4L409.7,618.9L406.9,619.6L402.9,619.6L400.9,619.1L396.9,616.7L394.1,612.9L392.9,610.2L392.2,606.9L391.9,602.9L392.3,598.9L394,592.9L396.9,588.1L398.9,586.2Z"/>
<path fill="rgb(128,1,0)" fill-rule="evenodd" d="M401.3,590.9L402.9,590.3L404.9,590.1L408.9,591L410.9,592.4L412.9,594.5L415.1,598.9L415.8,602.9L415.7,604.9L414.6,608.9L413.4,610.9L411.3,612.9L406.9,614.9L402.9,614.9L400.9,614.2L399.1,612.9L396.9,609.9L395.9,606.9L395.6,602.9L396.7,596.9L398.9,592.9Z"/>
<line x1="208.9" y1="795.9" x2="824.2" y2="184.9" stroke="#444" stroke-width="5.2" stroke-linecap="round" stroke-dasharray="6.4 17.45" stroke-dashoffset="-1.7"/>
</g>
<path d="M234.2,1005.8C238.6,1005.4 253.9,1004.6 260.9,1003.7C267.9,1002.9 272.0,1002.3 276.2,1000.7C280.4,999.1 282.9,997.3 286.3,994.3C289.7,991.3 293.3,987.2 296.5,982.8C299.7,978.3 302.4,972.7 305.4,967.6C308.4,962.5 311.1,957.0 314.3,952.3C317.5,947.6 321.1,943.8 324.5,939.6C327.9,935.4 331.7,931.4 334.7,926.9C337.7,922.4 339.3,917.3 342.3,912.9C345.3,908.5 349.3,903.4 352.5,900.2C355.7,897.0 358.4,895.2 361.4,893.8C364.4,892.4 366.7,891.6 370.3,892.0C373.9,892.4 378.3,894.1 383.0,896.3C387.7,898.5 393.2,902.2 398.3,905.2C403.4,908.2 408.5,911.6 413.6,914.1C418.7,916.6 423.7,918.8 428.8,920.5C433.9,922.2 439.0,923.4 444.1,924.3C449.2,925.1 454.3,925.6 459.4,925.6C464.5,925.6 470.4,925.1 474.6,924.3C478.8,923.4 481.0,922.0 484.8,920.5C488.6,919.0 493.2,917.5 497.5,915.4C501.8,913.3 506.5,910.5 510.3,907.8C514.1,905.0 517.1,902.3 520.4,898.9C523.7,895.5 527.6,890.4 530.1,887.4C532.6,884.4 532.4,884.9 535.4,881.1C538.4,877.3 544.4,869.2 548.2,864.5C552.0,859.8 554.9,855.9 558.3,853.1C561.7,850.3 564.9,848.9 568.5,847.5C572.1,846.1 576.4,845.4 580.0,844.9C583.6,844.4 587.0,843.9 590.2,844.7C593.4,845.6 595.5,847.1 599.1,850.0C602.7,852.9 608.0,858.7 611.8,862.0C615.6,865.3 618.6,866.2 622.0,869.6C625.4,873.0 628.3,877.8 632.1,882.3C635.9,886.8 640.6,891.4 644.9,896.3C649.1,901.2 653.4,906.5 657.6,911.6C661.8,916.7 665.6,921.6 670.3,926.9C675.0,932.2 680.9,938.5 685.6,943.4C690.3,948.3 693.6,952.5 698.3,956.1C703.0,959.7 708.9,961.4 713.6,965.0C718.3,968.6 722.1,973.5 726.3,977.8C730.5,982.0 734.8,987.1 739.0,990.5C743.2,993.9 747.5,996.1 751.7,998.1C756.0,1000.1 759.8,1001.6 764.5,1002.7C769.2,1003.9 774.0,1004.6 779.7,1005.0C785.4,1005.4 795.6,1005.2 798.8,1005.2L798.8,1007.6L234.2,1007.6Z" fill="url(#hatchC)"/>
<path d="M234.2,1005.8C238.6,1005.4 253.9,1004.6 260.9,1003.7C267.9,1002.9 272.0,1002.3 276.2,1000.7C280.4,999.1 282.9,997.3 286.3,994.3C289.7,991.3 293.3,987.2 296.5,982.8C299.7,978.3 302.4,972.7 305.4,967.6C308.4,962.5 311.1,957.0 314.3,952.3C317.5,947.6 321.1,943.8 324.5,939.6C327.9,935.4 331.7,931.4 334.7,926.9C337.7,922.4 339.3,917.3 342.3,912.9C345.3,908.5 349.3,903.4 352.5,900.2C355.7,897.0 358.4,895.2 361.4,893.8C364.4,892.4 366.7,891.6 370.3,892.0C373.9,892.4 378.3,894.1 383.0,896.3C387.7,898.5 393.2,902.2 398.3,905.2C403.4,908.2 408.5,911.6 413.6,914.1C418.7,916.6 423.7,918.8 428.8,920.5C433.9,922.2 439.0,923.4 444.1,924.3C449.2,925.1 454.3,925.6 459.4,925.6C464.5,925.6 470.4,925.1 474.6,924.3C478.8,923.4 481.0,922.0 484.8,920.5C488.6,919.0 493.2,917.5 497.5,915.4C501.8,913.3 506.5,910.5 510.3,907.8C514.1,905.0 517.1,902.3 520.4,898.9C523.7,895.5 527.6,890.4 530.1,887.4C532.6,884.4 532.4,884.9 535.4,881.1C538.4,877.3 544.4,869.2 548.2,864.5C552.0,859.8 554.9,855.9 558.3,853.1C561.7,850.3 564.9,848.9 568.5,847.5C572.1,846.1 576.4,845.4 580.0,844.9C583.6,844.4 587.0,843.9 590.2,844.7C593.4,845.6 595.5,847.1 599.1,850.0C602.7,852.9 608.0,858.7 611.8,862.0C615.6,865.3 618.6,866.2 622.0,869.6C625.4,873.0 628.3,877.8 632.1,882.3C635.9,886.8 640.6,891.4 644.9,896.3C649.1,901.2 653.4,906.5 657.6,911.6C661.8,916.7 665.6,921.6 670.3,926.9C675.0,932.2 680.9,938.5 685.6,943.4C690.3,948.3 693.6,952.5 698.3,956.1C703.0,959.7 708.9,961.4 713.6,965.0C718.3,968.6 722.1,973.5 726.3,977.8C730.5,982.0 734.8,987.1 739.0,990.5C743.2,993.9 747.5,996.1 751.7,998.1C756.0,1000.1 759.8,1001.6 764.5,1002.7C769.2,1003.9 774.0,1004.6 779.7,1005.0C785.4,1005.4 795.6,1005.2 798.8,1005.2" fill="none" stroke="#0000ff" stroke-width="6.1" stroke-linejoin="round"/>
<path d="M234.2,944.7C236.5,943.6 242.9,940.8 248.2,938.3C253.5,935.8 259.6,932.6 266.0,929.4C272.4,926.2 279.9,922.0 286.3,919.2C292.7,916.4 298.2,914.0 304.1,912.4C310.1,910.8 316.5,910.0 322.0,909.8C327.5,909.6 332.1,910.2 337.2,911.1C342.3,912.0 347.4,913.6 352.5,915.4C357.6,917.2 361.9,918.8 367.8,921.8C373.7,924.8 381.3,929.4 388.1,933.2C394.9,937.0 401.7,941.3 408.5,944.7C415.3,948.1 422.0,950.9 428.8,953.6C435.6,956.4 442.4,959.0 449.2,961.2C456.0,963.5 462.7,965.4 469.5,967.1C476.3,968.8 483.1,970.2 489.9,971.4C496.7,972.6 503.6,973.7 510.3,974.5C517.0,975.3 525.9,975.7 530.1,976.0C534.3,976.3 530.3,976.2 535.4,976.5C540.5,976.8 552.4,977.8 560.9,977.8C569.4,977.8 577.8,977.1 586.3,976.5C594.8,975.9 603.3,974.8 611.8,973.9C620.3,973.0 628.7,972.2 637.2,971.4C645.7,970.6 654.2,969.6 662.7,968.9C671.2,968.2 679.6,967.3 688.1,967.1C696.6,966.9 705.1,967.2 713.6,967.6C722.1,968.0 730.5,968.7 739.0,969.6C747.5,970.5 754.5,971.6 764.5,973.2C774.5,974.8 793.1,978.0 798.8,979.0" fill="none" stroke="#000" stroke-width="6.1" stroke-linejoin="round"/>
<path d="M1026.5,209.9C1026.1,213.0 1025.3,221.8 1024.0,228.3C1022.7,234.8 1021.4,241.0 1018.9,248.7C1016.4,256.3 1013.0,265.7 1008.7,274.2C1004.5,282.7 999.4,291.3 993.4,299.8C987.4,308.3 980.1,317.2 972.9,325.3C965.7,333.4 957.6,341.0 950.0,348.2C942.4,355.4 933.8,362.9 927.0,368.7C920.2,374.4 913.8,378.0 909.1,382.7C904.4,387.4 902.1,391.8 898.9,396.7C895.7,401.6 892.5,407.4 890.0,412.1C887.5,416.8 884.8,421.0 883.6,424.8C882.4,428.6 882.2,431.2 882.8,435.0C883.4,438.8 884.7,443.1 887.4,447.8C890.1,452.5 894.4,458.0 898.9,463.1C903.4,468.2 909.4,473.6 914.2,478.4C919.0,483.2 923.5,487.2 927.5,491.9C931.5,496.6 935.1,501.8 938.0,506.4C940.9,511.0 943.0,515.3 944.6,519.5C946.2,523.7 947.6,527.0 947.8,531.4C948.0,535.8 947.1,541.3 945.9,545.9C944.7,550.5 943.3,554.6 940.7,559.0C938.1,563.4 934.5,567.8 930.1,572.2C925.7,576.6 919.8,581.0 914.3,585.4C908.8,589.8 902.2,594.2 897.2,598.6C892.2,603.0 887.5,607.4 884.0,611.8C880.5,616.2 877.9,620.9 876.1,624.9C874.3,628.9 872.8,632.2 873.0,635.5C873.2,638.8 874.5,641.4 877.4,644.7C880.3,648.0 885.3,651.5 890.6,655.2C895.9,658.9 902.4,663.1 909.0,667.1C915.6,671.1 923.1,675.0 930.1,679.0C937.1,683.0 944.2,686.6 951.2,690.8C958.2,695.0 965.7,699.4 972.3,704.0C978.9,708.6 985.2,713.7 990.7,718.5C996.2,723.3 1001.0,728.0 1005.2,733.0C1009.4,738.0 1012.9,744.0 1015.8,748.8C1018.7,753.6 1020.8,758.2 1022.4,761.9C1024.0,765.6 1025.0,769.7 1025.5,771.2L1033.7,771.2L1033.7,209.9Z" fill="url(#hatchB)"/>
<path d="M1026.5,209.9C1026.1,213.0 1025.3,221.8 1024.0,228.3C1022.7,234.8 1021.4,241.0 1018.9,248.7C1016.4,256.3 1013.0,265.7 1008.7,274.2C1004.5,282.7 999.4,291.3 993.4,299.8C987.4,308.3 980.1,317.2 972.9,325.3C965.7,333.4 957.6,341.0 950.0,348.2C942.4,355.4 933.8,362.9 927.0,368.7C920.2,374.4 913.8,378.0 909.1,382.7C904.4,387.4 902.1,391.8 898.9,396.7C895.7,401.6 892.5,407.4 890.0,412.1C887.5,416.8 884.8,421.0 883.6,424.8C882.4,428.6 882.2,431.2 882.8,435.0C883.4,438.8 884.7,443.1 887.4,447.8C890.1,452.5 894.4,458.0 898.9,463.1C903.4,468.2 909.4,473.6 914.2,478.4C919.0,483.2 923.5,487.2 927.5,491.9C931.5,496.6 935.1,501.8 938.0,506.4C940.9,511.0 943.0,515.3 944.6,519.5C946.2,523.7 947.6,527.0 947.8,531.4C948.0,535.8 947.1,541.3 945.9,545.9C944.7,550.5 943.3,554.6 940.7,559.0C938.1,563.4 934.5,567.8 930.1,572.2C925.7,576.6 919.8,581.0 914.3,585.4C908.8,589.8 902.2,594.2 897.2,598.6C892.2,603.0 887.5,607.4 884.0,611.8C880.5,616.2 877.9,620.9 876.1,624.9C874.3,628.9 872.8,632.2 873.0,635.5C873.2,638.8 874.5,641.4 877.4,644.7C880.3,648.0 885.3,651.5 890.6,655.2C895.9,658.9 902.4,663.1 909.0,667.1C915.6,671.1 923.1,675.0 930.1,679.0C937.1,683.0 944.2,686.6 951.2,690.8C958.2,695.0 965.7,699.4 972.3,704.0C978.9,708.6 985.2,713.7 990.7,718.5C996.2,723.3 1001.0,728.0 1005.2,733.0C1009.4,738.0 1012.9,744.0 1015.8,748.8C1018.7,753.6 1020.8,758.2 1022.4,761.9C1024.0,765.6 1025.0,769.7 1025.5,771.2" fill="none" stroke="#0000ff" stroke-width="6.1" stroke-linejoin="round"/>
<line x1="209.4" y1="1007.6" x2="824.2" y2="1007.6" stroke="#000" stroke-width="7.4" stroke-linecap="round" stroke-dasharray="0 14.18"/>
<line x1="1033.7" y1="791.1" x2="1033.7" y2="184.9" stroke="#000" stroke-width="7.4" stroke-linecap="round" stroke-dasharray="0 14.095"/>
<path d="M784.4,184.9v5.5M784.4,795.9v-5.5M208.9,224.4h5.5M824.2,224.4h-5.5M708.7,184.9v11.5M708.7,795.9v-11.5M208.9,299.6h11.5M824.2,299.6h-11.5M634.1,184.9v5.5M634.1,795.9v-5.5M208.9,373.7h5.5M824.2,373.7h-5.5M560.8,184.9v11.5M560.8,795.9v-11.5M208.9,446.5h11.5M824.2,446.5h-11.5M488.6,184.9v5.5M488.6,795.9v-5.5M208.9,518.2h5.5M824.2,518.2h-5.5M417.6,184.9v11.5M417.6,795.9v-11.5M208.9,588.7h11.5M824.2,588.7h-11.5M347.6,184.9v5.5M347.6,795.9v-5.5M208.9,658.1h5.5M824.2,658.1h-5.5M278.8,184.9v11.5M278.8,795.9v-11.5M208.9,726.5h11.5M824.2,726.5h-11.5M211.1,184.9v5.5M211.1,795.9v-5.5M208.9,793.7h5.5M824.2,793.7h-5.5M264.8,1040.1v-5.5M1070.5,740.4h-5.5M320.8,1040.1v-5.5M1070.5,684.8h-5.5M376.7,1040.1v-5.5M1070.5,629.3h-5.5M432.6,1040.1v-5.5M1070.5,573.7h-5.5M488.6,1040.1v-11.5M1070.5,518.2h-11.5M544.5,1040.1v-5.5M1070.5,462.6h-5.5M600.5,1040.1v-5.5M1070.5,407.1h-5.5M656.4,1040.1v-5.5M1070.5,351.5h-5.5M712.3,1040.1v-5.5M1070.5,296.0h-5.5M768.3,1040.1v-11.5M1070.5,240.4h-11.5" stroke="#000" stroke-width="6.0" stroke-linecap="round" fill="none"/>
<rect x="713.6" y="575.8" width="110.6" height="220.1" fill="#fff" stroke="#000" stroke-width="2"/>
<linearGradient id="cb" x1="0" y1="0" x2="0" y2="1">
<stop offset="0.000" stop-color="rgb(158,200,230)"/>
<stop offset="0.110" stop-color="rgb(140,195,235)"/>
<stop offset="0.160" stop-color="rgb(122,182,192)"/>
<stop offset="0.200" stop-color="rgb(85,160,115)"/>
<stop offset="0.235" stop-color="rgb(0,140,50)"/>
<stop offset="0.340" stop-color="rgb(0,155,50)"/>
<stop offset="0.400" stop-color="rgb(120,188,40)"/>
<stop offset="0.470" stop-color="rgb(205,222,5)"/>
<stop offset="0.540" stop-color="rgb(245,230,0)"/>
<stop offset="0.610" stop-color="rgb(240,180,0)"/>
<stop offset="0.690" stop-color="rgb(230,140,40)"/>
<stop offset="0.790" stop-color="rgb(226,100,30)"/>
<stop offset="0.890" stop-color="rgb(200,60,35)"/>
<stop offset="0.950" stop-color="rgb(170,38,38)"/>
<stop offset="1.000" stop-color="rgb(160,35,40)"/>
</linearGradient>
<rect x="720.4" y="634.7" width="40.3" height="101.3" fill="url(#cb)"/>
<path d="M208.9,184.9H1070.5V795.9H208.9ZM824.2,184.9V1040.1H208.9V795.9" fill="none" stroke="#000" stroke-width="6.4" stroke-linejoin="round"/>
<text transform="translate(278.8,160.3)" font-family="Liberation Sans, Arial, sans-serif" font-size="57" fill="#000" text-anchor="middle">320</text>
<text transform="translate(417.6,160.3)" font-family="Liberation Sans, Arial, sans-serif" font-size="57" fill="#000" text-anchor="middle">315</text>
<text transform="translate(560.8,160.3)" font-family="Liberation Sans, Arial, sans-serif" font-size="57" fill="#000" text-anchor="middle">310</text>
<text transform="translate(708.7,160.3)" font-family="Liberation Sans, Arial, sans-serif" font-size="57" fill="#000" text-anchor="middle">305</text>
<text transform="translate(196.0,315.4)" font-family="Liberation Sans, Arial, sans-serif" font-size="57" fill="#000" text-anchor="end">305</text>
<text transform="translate(196.0,462.3)" font-family="Liberation Sans, Arial, sans-serif" font-size="57" fill="#000" text-anchor="end">310</text>
<text transform="translate(196.0,604.5)" font-family="Liberation Sans, Arial, sans-serif" font-size="57" fill="#000" text-anchor="end">315</text>
<text transform="translate(196.0,742.3)" font-family="Liberation Sans, Arial, sans-serif" font-size="57" fill="#000" text-anchor="end">320</text>
<text transform="translate(208.9,1096.5)" font-family="Liberation Sans, Arial, sans-serif" font-size="57" fill="#000" text-anchor="middle">31</text>
<text transform="translate(488.6,1096.5)" font-family="Liberation Sans, Arial, sans-serif" font-size="57" fill="#000" text-anchor="middle">32</text>
<text transform="translate(768.3,1096.5)" font-family="Liberation Sans, Arial, sans-serif" font-size="57" fill="#000" text-anchor="middle">33</text>
<text transform="translate(1082.2,812.6)" font-family="Liberation Sans, Arial, sans-serif" font-size="57" fill="#000" text-anchor="start">31</text>
<text transform="translate(1082.2,534.0)" font-family="Liberation Sans, Arial, sans-serif" font-size="57" fill="#000" text-anchor="start">32</text>
<text transform="translate(1082.2,256.2)" font-family="Liberation Sans, Arial, sans-serif" font-size="57" fill="#000" text-anchor="start">33</text>
<text transform="translate(232.3,262.2) scale(1.058,1)" font-family="Liberation Sans, Arial, sans-serif" font-size="55.7" fill="#000" text-anchor="start">a)</text>
<text transform="translate(846.3,762.0) scale(1.061,1)" font-family="Liberation Sans, Arial, sans-serif" font-size="55.7" fill="#000" text-anchor="start">b)</text>
<text transform="translate(227.1,869.0) scale(1.098,1)" font-family="Liberation Sans, Arial, sans-serif" font-size="55.7" fill="#000" text-anchor="start">c)</text>
<text transform="translate(701.0,939.6) scale(1.033,1)" font-family="Liberation Sans, Arial, sans-serif" font-size="55.7" fill="#000" text-anchor="start">abs.</text>
<text transform="translate(658.4,866.0) scale(1.020,1)" font-family="Liberation Sans, Arial, sans-serif" font-size="55.7" fill="#0000ff" text-anchor="start">pump</text>
<text transform="translate(890.7,349.6) rotate(-90) scale(0.995,1)" font-family="Liberation Sans, Arial, sans-serif" font-size="56.5" fill="#0000ff" text-anchor="start">probe</text>
<text transform="translate(726.0,625.0) scale(1.043,1)" font-family="Liberation Sans, Arial, sans-serif" font-size="50" fill="#000" text-anchor="start">0</text>
<text transform="translate(727.0,778.9)" font-family="Liberation Sans, Arial, sans-serif" font-size="50" fill="#000" text-anchor="start">1</text>
<text transform="translate(807.9,786.0) rotate(-90) scale(1.005,1)" font-family="Liberation Sans, Arial, sans-serif" font-size="51.5" fill="#000" text-anchor="start">int. (a.u.)</text>
<text transform="translate(381.6,76.7) scale(1.033,1)" font-family="Liberation Serif, serif" font-weight="bold" font-size="57" fill="#000" text-anchor="start">λ</text>
<text transform="translate(413.6,95.2) scale(1.039,1)" font-family="Liberation Sans, Arial, sans-serif" font-size="47" fill="#000" text-anchor="start">pump</text>
<text transform="translate(549.7,76.6) scale(1.038,1)" font-family="Liberation Sans, Arial, sans-serif" font-size="55.7" fill="#000" text-anchor="start">(nm)</text>
<text transform="translate(309.8,1163.4) scale(1.073,1)" font-family="Liberation Serif, serif" font-weight="bold" font-size="60" fill="#000" text-anchor="start">ν</text>
<text transform="translate(337.0,1182.0) scale(1.044,1)" font-family="Liberation Sans, Arial, sans-serif" font-size="47" fill="#000" text-anchor="start">pump</text>
<text transform="translate(475.6,1163.4) scale(1.018,1)" font-family="Liberation Sans, Arial, sans-serif" font-size="55.7" fill="#000" text-anchor="start">(10</text>
<text transform="translate(557.7,1135.7) scale(1.026,1)" font-family="Liberation Sans, Arial, sans-serif" font-size="40" fill="#000" text-anchor="start">3</text>
<text transform="translate(595.8,1163.4) scale(1.029,1)" font-family="Liberation Sans, Arial, sans-serif" font-size="55.7" fill="#000" text-anchor="start">cm</text>
<text transform="translate(672.1,1135.5) scale(0.846,1)" font-family="Liberation Sans, Arial, sans-serif" font-size="40" fill="#000" text-anchor="start">-1</text>
<text transform="translate(710.4,1163.4) scale(0.916,1)" font-family="Liberation Sans, Arial, sans-serif" font-size="55.7" fill="#000" text-anchor="start">)</text>
<text transform="translate(68.5,659.4) rotate(-90) scale(1.069,1)" font-family="Liberation Serif, serif" font-weight="bold" font-size="57" fill="#000" text-anchor="start">λ</text>
<text transform="translate(87.7,628.5) rotate(-90) scale(1.009,1)" font-family="Liberation Sans, Arial, sans-serif" font-size="47" fill="#000" text-anchor="start">probe</text>
<text transform="translate(68.5,490.9) rotate(-90) scale(0.986,1)" font-family="Liberation Sans, Arial, sans-serif" font-size="55.7" fill="#000" text-anchor="start">(nm)</text>
<text transform="translate(1207.8,710.5) rotate(-90) scale(1.015,1)" font-family="Liberation Serif, serif" font-weight="bold" font-size="60" fill="#000" text-anchor="start">ν</text>
<text transform="translate(1228.1,683.5) rotate(-90) scale(1.004,1)" font-family="Liberation Sans, Arial, sans-serif" font-size="47" fill="#000" text-anchor="start">probe</text>
<text transform="translate(1207.8,543.6) rotate(-90) scale(0.985,1)" font-family="Liberation Sans, Arial, sans-serif" font-size="55.7" fill="#000" text-anchor="start">(10</text>
<text transform="translate(1179.8,461.8) rotate(-90) scale(1.084,1)" font-family="Liberation Sans, Arial, sans-serif" font-size="40" fill="#000" text-anchor="start">3</text>
<text transform="translate(1207.8,426.7) rotate(-90) scale(1.042,1)" font-family="Liberation Sans, Arial, sans-serif" font-size="55.7" fill="#000" text-anchor="start">cm</text>
<text transform="translate(1179.8,349.6) rotate(-90) scale(0.874,1)" font-family="Liberation Sans, Arial, sans-serif" font-size="40" fill="#000" text-anchor="start">-1</text>
<text transform="translate(1207.8,311.3) rotate(-90) scale(1.060,1)" font-family="Liberation Sans, Arial, sans-serif" font-size="55.7" fill="#000" text-anchor="start">)</text>
</svg>
</body></html>
